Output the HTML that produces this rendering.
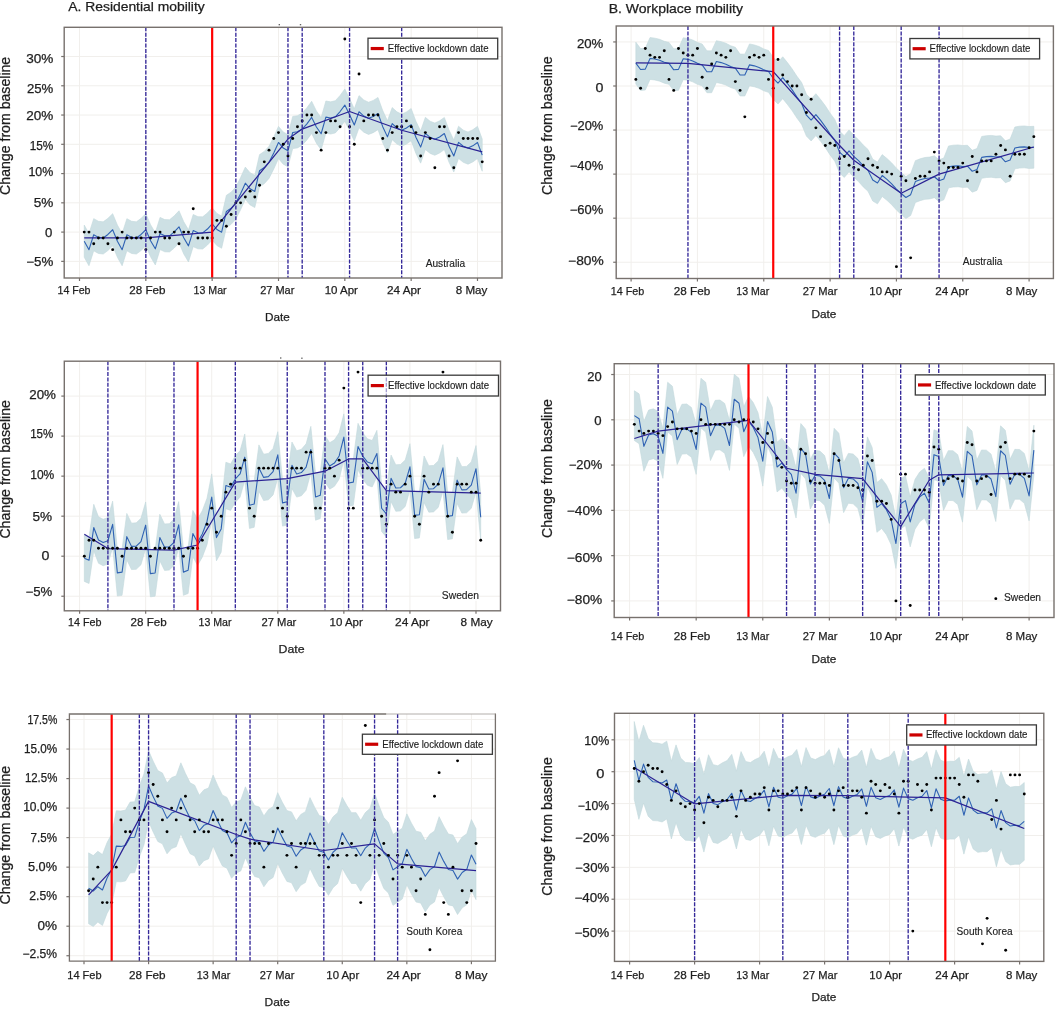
<!DOCTYPE html>
<html><head><meta charset="utf-8"><title>Residential and workplace mobility</title>
<style>
html,body{margin:0;padding:0;background:#fff;}
svg{display:block;}
text{font-family:"Liberation Sans",Arial,sans-serif;fill:#1e1e1e;stroke:#1e1e1e;stroke-width:0.25px;}
.t2 text{fill:#222;stroke:#222;stroke-width:0.15px;}
</style></head><body>
<svg width="1064" height="1023" viewBox="0 0 1064 1023">
<g class="t">
<text x="68.27" y="10.8" font-size="13.2" textLength="136.47" lengthAdjust="spacingAndGlyphs">A. Residential mobility</text>
<text x="608.65" y="12.8" font-size="13.1" textLength="134.3" lengthAdjust="spacingAndGlyphs">B. Workplace mobility</text>
</g>
<g>
<line x1="64.2" y1="56.51" x2="502" y2="56.51" stroke="#f1efec" stroke-width="1"/>
<line x1="64.2" y1="85.78" x2="502" y2="85.78" stroke="#f1efec" stroke-width="1"/>
<line x1="64.2" y1="115.04" x2="502" y2="115.04" stroke="#f1efec" stroke-width="1"/>
<line x1="64.2" y1="144.31" x2="502" y2="144.31" stroke="#f1efec" stroke-width="1"/>
<line x1="64.2" y1="173.57" x2="502" y2="173.57" stroke="#f1efec" stroke-width="1"/>
<line x1="64.2" y1="202.83" x2="502" y2="202.83" stroke="#f1efec" stroke-width="1"/>
<line x1="64.2" y1="232.1" x2="502" y2="232.1" stroke="#f1efec" stroke-width="1"/>
<line x1="64.2" y1="261.37" x2="502" y2="261.37" stroke="#f1efec" stroke-width="1"/>
<line x1="79.5" y1="27.3" x2="79.5" y2="278" stroke="#f1efec" stroke-width="1"/>
<line x1="145.83" y1="27.3" x2="145.83" y2="278" stroke="#f1efec" stroke-width="1"/>
<line x1="212.16" y1="27.3" x2="212.16" y2="278" stroke="#f1efec" stroke-width="1"/>
<line x1="278.5" y1="27.3" x2="278.5" y2="278" stroke="#f1efec" stroke-width="1"/>
<line x1="344.83" y1="27.3" x2="344.83" y2="278" stroke="#f1efec" stroke-width="1"/>
<line x1="411.16" y1="27.3" x2="411.16" y2="278" stroke="#f1efec" stroke-width="1"/>
<line x1="477.49" y1="27.3" x2="477.49" y2="278" stroke="#f1efec" stroke-width="1"/>
<polygon fill="#cde0e4" stroke="#c3d8dc" stroke-width="0.6" stroke-linejoin="round" points="84.24,225.08 88.98,233.56 93.71,218.64 98.45,221.27 103.19,221.86 107.93,218.35 112.67,213.66 117.4,225.08 122.14,233.56 126.88,218.64 131.62,221.27 136.36,221.86 141.09,218.35 145.83,213.66 150.57,224.66 155.31,232.73 160.05,217.38 164.78,219.6 169.52,219.77 174.26,215.84 179,210.74 183.74,221.73 188.47,229.8 193.21,214.46 197.95,216.67 202.69,216.84 207.43,212.91 212.16,207.81 216.9,213.41 221.64,216.08 226.38,195.34 231.12,192.15 235.85,186.92 240.59,177.59 245.33,167.1 250.07,172.69 254.81,175.36 259.54,154.62 264.28,151.44 269.02,146.21 273.76,136.88 278.5,126.38 283.23,131.98 287.97,134.65 292.71,116.41 297.45,115.72 302.19,112.99 306.92,107.72 311.66,101.29 316.4,110.94 321.14,117.67 325.88,100.99 330.61,101.87 335.35,100.7 340.09,95.43 344.83,88.99 349.57,98.65 354.3,108.84 359.04,95.62 363.78,99.96 368.52,102.24 373.26,100.43 377.99,97.45 382.73,110.57 387.47,120.76 392.21,107.54 396.95,111.87 401.68,114.16 406.42,111.92 411.16,108.52 415.9,121.2 420.64,130.96 425.37,117.31 430.11,121.22 434.85,123.08 439.59,120.84 444.33,117.43 449.06,130.12 453.8,139.88 458.54,126.23 463.28,130.14 468.02,132 472.75,129.76 477.49,126.35 482.23,139.04 482.23,171.23 477.49,158.54 472.75,161.95 468.02,164.19 463.28,162.33 458.54,158.42 453.8,172.07 449.06,162.31 444.33,149.62 439.59,153.03 434.85,155.27 430.11,153.41 425.37,149.5 420.64,163.16 415.9,153.39 411.16,140.71 406.42,144.12 401.68,146.35 396.95,144.07 392.21,139.73 387.47,152.95 382.73,142.76 377.99,129.65 373.26,132.63 368.52,134.43 363.78,132.15 359.04,127.81 354.3,141.03 349.57,130.84 344.83,121.19 340.09,127.62 335.35,132.89 330.61,134.06 325.88,133.18 321.14,149.87 316.4,143.13 311.66,133.48 306.92,139.92 302.19,145.18 297.45,147.91 292.71,148.6 287.97,166.84 283.23,164.17 278.5,158.57 273.76,169.07 269.02,178.4 264.28,183.63 259.54,186.81 254.81,207.55 250.07,204.88 245.33,199.29 240.59,209.79 235.85,219.11 231.12,224.34 226.38,227.53 221.64,248.27 216.9,245.6 212.16,240 207.43,245.1 202.69,249.03 197.95,248.86 193.21,246.65 188.47,261.99 183.74,253.92 179,242.93 174.26,248.03 169.52,251.96 164.78,251.79 160.05,249.58 155.31,264.92 150.57,256.85 145.83,245.85 141.09,250.54 136.36,254.05 131.62,253.46 126.88,250.83 122.14,265.75 117.4,257.27 112.67,245.85 107.93,250.54 103.19,254.05 98.45,253.46 93.71,250.83 88.98,265.75 84.24,257.27"/>
<polyline fill="none" stroke="#2f62b3" stroke-width="1.1" stroke-linejoin="round" points="84.24,241.17 88.98,249.66 93.71,234.73 98.45,237.37 103.19,237.95 107.93,234.44 112.67,229.76 117.4,241.17 122.14,249.66 126.88,234.73 131.62,237.37 136.36,237.95 141.09,234.44 145.83,229.76 150.57,240.75 155.31,248.82 160.05,233.48 164.78,235.7 169.52,235.86 174.26,231.93 179,226.83 183.74,237.83 188.47,245.9 193.21,230.55 197.95,232.77 202.69,232.94 207.43,229.01 212.16,223.91 216.9,229.5 221.64,232.17 226.38,211.43 231.12,208.25 235.85,203.02 240.59,193.69 245.33,183.19 250.07,188.79 254.81,191.46 259.54,170.72 264.28,167.53 269.02,162.3 273.76,152.97 278.5,142.48 283.23,148.07 287.97,150.74 292.71,132.5 297.45,131.82 302.19,129.09 306.92,123.82 311.66,117.38 316.4,127.04 321.14,133.77 325.88,117.09 330.61,117.97 335.35,116.8 340.09,111.53 344.83,105.09 349.57,114.75 354.3,124.94 359.04,111.71 363.78,116.05 368.52,118.34 373.26,116.53 377.99,113.55 382.73,126.67 387.47,136.86 392.21,123.63 396.95,127.97 401.68,130.26 406.42,128.02 411.16,124.61 415.9,137.3 420.64,147.06 425.37,133.41 430.11,137.32 434.85,139.18 439.59,136.94 444.33,133.53 449.06,146.22 453.8,155.98 458.54,142.33 463.28,146.23 468.02,148.09 472.75,145.85 477.49,142.45 482.23,155.13"/>
<polyline fill="none" stroke="#2b2294" stroke-width="1.2" stroke-linejoin="round" points="84.24,237.95 145.83,237.95 212.16,232.1 287.97,139.04 302.19,129.09 349.57,111.53 401.68,130.26 482.23,151.91"/>
<circle cx="84.24" cy="232.1" r="1.45"/>
<circle cx="88.98" cy="232.1" r="1.45"/>
<circle cx="93.71" cy="243.81" r="1.45"/>
<circle cx="98.45" cy="237.95" r="1.45"/>
<circle cx="103.19" cy="237.95" r="1.45"/>
<circle cx="107.93" cy="243.81" r="1.45"/>
<circle cx="112.67" cy="249.66" r="1.45"/>
<circle cx="117.4" cy="237.95" r="1.45"/>
<circle cx="122.14" cy="232.1" r="1.45"/>
<circle cx="126.88" cy="237.95" r="1.45"/>
<circle cx="131.62" cy="237.95" r="1.45"/>
<circle cx="136.36" cy="237.95" r="1.45"/>
<circle cx="141.09" cy="237.95" r="1.45"/>
<circle cx="145.83" cy="249.66" r="1.45"/>
<circle cx="150.57" cy="237.95" r="1.45"/>
<circle cx="155.31" cy="232.1" r="1.45"/>
<circle cx="160.05" cy="232.1" r="1.45"/>
<circle cx="164.78" cy="237.95" r="1.45"/>
<circle cx="169.52" cy="237.95" r="1.45"/>
<circle cx="174.26" cy="232.1" r="1.45"/>
<circle cx="179" cy="243.81" r="1.45"/>
<circle cx="183.74" cy="232.1" r="1.45"/>
<circle cx="188.47" cy="232.1" r="1.45"/>
<circle cx="193.21" cy="208.69" r="1.45"/>
<circle cx="197.95" cy="237.95" r="1.45"/>
<circle cx="202.69" cy="237.95" r="1.45"/>
<circle cx="207.43" cy="237.95" r="1.45"/>
<circle cx="212.16" cy="237.95" r="1.45"/>
<circle cx="216.9" cy="220.39" r="1.45"/>
<circle cx="221.64" cy="220.39" r="1.45"/>
<circle cx="226.38" cy="226.25" r="1.45"/>
<circle cx="231.12" cy="214.54" r="1.45"/>
<circle cx="235.85" cy="202.83" r="1.45"/>
<circle cx="240.59" cy="202.83" r="1.45"/>
<circle cx="245.33" cy="196.98" r="1.45"/>
<circle cx="250.07" cy="191.13" r="1.45"/>
<circle cx="254.81" cy="196.98" r="1.45"/>
<circle cx="259.54" cy="185.28" r="1.45"/>
<circle cx="264.28" cy="161.86" r="1.45"/>
<circle cx="269.02" cy="150.16" r="1.45"/>
<circle cx="273.76" cy="138.45" r="1.45"/>
<circle cx="278.5" cy="132.6" r="1.45"/>
<circle cx="283.23" cy="144.31" r="1.45"/>
<circle cx="287.97" cy="156.01" r="1.45"/>
<circle cx="292.71" cy="138.45" r="1.45"/>
<circle cx="297.45" cy="126.75" r="1.45"/>
<circle cx="302.19" cy="120.89" r="1.45"/>
<circle cx="306.92" cy="115.04" r="1.45"/>
<circle cx="311.66" cy="115.04" r="1.45"/>
<circle cx="316.4" cy="132.6" r="1.45"/>
<circle cx="321.14" cy="150.16" r="1.45"/>
<circle cx="325.88" cy="132.6" r="1.45"/>
<circle cx="330.61" cy="120.89" r="1.45"/>
<circle cx="335.35" cy="120.89" r="1.45"/>
<circle cx="340.09" cy="126.75" r="1.45"/>
<circle cx="344.83" cy="38.95" r="1.45"/>
<circle cx="349.57" cy="126.75" r="1.45"/>
<circle cx="354.3" cy="144.31" r="1.45"/>
<circle cx="359.04" cy="74.07" r="1.45"/>
<circle cx="363.78" cy="120.89" r="1.45"/>
<circle cx="368.52" cy="115.04" r="1.45"/>
<circle cx="373.26" cy="115.04" r="1.45"/>
<circle cx="377.99" cy="115.04" r="1.45"/>
<circle cx="382.73" cy="138.45" r="1.45"/>
<circle cx="387.47" cy="150.16" r="1.45"/>
<circle cx="392.21" cy="132.6" r="1.45"/>
<circle cx="396.95" cy="126.75" r="1.45"/>
<circle cx="401.68" cy="126.75" r="1.45"/>
<circle cx="406.42" cy="120.89" r="1.45"/>
<circle cx="411.16" cy="126.75" r="1.45"/>
<circle cx="415.9" cy="132.6" r="1.45"/>
<circle cx="420.64" cy="156.01" r="1.45"/>
<circle cx="425.37" cy="132.6" r="1.45"/>
<circle cx="430.11" cy="138.45" r="1.45"/>
<circle cx="434.85" cy="167.72" r="1.45"/>
<circle cx="439.59" cy="126.75" r="1.45"/>
<circle cx="444.33" cy="126.75" r="1.45"/>
<circle cx="449.06" cy="156.01" r="1.45"/>
<circle cx="453.8" cy="167.72" r="1.45"/>
<circle cx="458.54" cy="132.6" r="1.45"/>
<circle cx="463.28" cy="138.45" r="1.45"/>
<circle cx="468.02" cy="138.45" r="1.45"/>
<circle cx="472.75" cy="138.45" r="1.45"/>
<circle cx="477.49" cy="138.45" r="1.45"/>
<circle cx="482.23" cy="161.86" r="1.45"/>
<line x1="145.83" y1="27.3" x2="145.83" y2="278" stroke="#35299a" stroke-width="1.35" stroke-dasharray="4,1.4"/>
<line x1="235.85" y1="27.3" x2="235.85" y2="278" stroke="#35299a" stroke-width="1.35" stroke-dasharray="4,1.4"/>
<line x1="287.97" y1="27.3" x2="287.97" y2="278" stroke="#35299a" stroke-width="1.35" stroke-dasharray="4,1.4"/>
<line x1="302.19" y1="27.3" x2="302.19" y2="278" stroke="#35299a" stroke-width="1.35" stroke-dasharray="4,1.4"/>
<line x1="349.57" y1="27.3" x2="349.57" y2="278" stroke="#35299a" stroke-width="1.35" stroke-dasharray="4,1.4"/>
<line x1="401.68" y1="27.3" x2="401.68" y2="278" stroke="#35299a" stroke-width="1.35" stroke-dasharray="4,1.4"/>
<line x1="212.16" y1="27.3" x2="212.16" y2="278" stroke="#ff0000" stroke-width="2.2"/>
<rect x="64.2" y="27.3" width="437.8" height="250.7" fill="none" stroke="#77716d" stroke-width="1.4"/>
<line x1="61.2" y1="56.51" x2="64.2" y2="56.51" stroke="#77716d" stroke-width="1.2"/>
<line x1="61.2" y1="85.78" x2="64.2" y2="85.78" stroke="#77716d" stroke-width="1.2"/>
<line x1="61.2" y1="115.04" x2="64.2" y2="115.04" stroke="#77716d" stroke-width="1.2"/>
<line x1="61.2" y1="144.31" x2="64.2" y2="144.31" stroke="#77716d" stroke-width="1.2"/>
<line x1="61.2" y1="173.57" x2="64.2" y2="173.57" stroke="#77716d" stroke-width="1.2"/>
<line x1="61.2" y1="202.83" x2="64.2" y2="202.83" stroke="#77716d" stroke-width="1.2"/>
<line x1="61.2" y1="232.1" x2="64.2" y2="232.1" stroke="#77716d" stroke-width="1.2"/>
<line x1="61.2" y1="261.37" x2="64.2" y2="261.37" stroke="#77716d" stroke-width="1.2"/>
<line x1="79.5" y1="278" x2="79.5" y2="281" stroke="#77716d" stroke-width="1.2"/>
<line x1="145.83" y1="278" x2="145.83" y2="281" stroke="#77716d" stroke-width="1.2"/>
<line x1="212.16" y1="278" x2="212.16" y2="281" stroke="#77716d" stroke-width="1.2"/>
<line x1="278.5" y1="278" x2="278.5" y2="281" stroke="#77716d" stroke-width="1.2"/>
<line x1="344.83" y1="278" x2="344.83" y2="281" stroke="#77716d" stroke-width="1.2"/>
<line x1="411.16" y1="278" x2="411.16" y2="281" stroke="#77716d" stroke-width="1.2"/>
<line x1="477.49" y1="278" x2="477.49" y2="281" stroke="#77716d" stroke-width="1.2"/>
</g>
<g class="t">
<text x="26.19" y="63.03" font-size="12" textLength="27.17" lengthAdjust="spacingAndGlyphs">30%</text>
<text x="26.94" y="92.93" font-size="12" textLength="26.41" lengthAdjust="spacingAndGlyphs">25%</text>
<text x="26.32" y="120.03" font-size="12" textLength="27.03" lengthAdjust="spacingAndGlyphs">20%</text>
<text x="29.72" y="150.03" font-size="12" textLength="23.58" lengthAdjust="spacingAndGlyphs">15%</text>
<text x="28.47" y="176.03" font-size="12" textLength="24.85" lengthAdjust="spacingAndGlyphs">10%</text>
<text x="33.76" y="207.23" font-size="12" textLength="19.62" lengthAdjust="spacingAndGlyphs">5%</text>
<text x="45.07" y="236.83" font-size="12" textLength="7.34" lengthAdjust="spacingAndGlyphs">0</text>
<text x="26.33" y="265.93" font-size="12" textLength="27.02" lengthAdjust="spacingAndGlyphs">−5%</text>
<text x="57.5" y="294.4" font-size="11.6" textLength="33.03" lengthAdjust="spacingAndGlyphs">14 Feb</text>
<text x="129.32" y="294.4" font-size="11.6" textLength="36.26" lengthAdjust="spacingAndGlyphs">28 Feb</text>
<text x="193.6" y="294.4" font-size="11.6" textLength="33.05" lengthAdjust="spacingAndGlyphs">13 Mar</text>
<text x="260.15" y="294.4" font-size="11.6" textLength="34.21" lengthAdjust="spacingAndGlyphs">27 Mar</text>
<text x="324.63" y="294.4" font-size="11.6" textLength="33.35" lengthAdjust="spacingAndGlyphs">10 Apr</text>
<text x="387.01" y="294.4" font-size="11.6" textLength="33.98" lengthAdjust="spacingAndGlyphs">24 Apr</text>
<text x="455.71" y="294.4" font-size="11.6" textLength="31.63" lengthAdjust="spacingAndGlyphs">8 May</text>
<text x="265.03" y="321.3" font-size="11.8" textLength="24.8" lengthAdjust="spacingAndGlyphs">Date</text>
<text transform="translate(10.3,194.2) rotate(-90)" x="-0.71" y="0" font-size="14" textLength="138.13" lengthAdjust="spacingAndGlyphs">Change from baseline</text>
</g>
<rect x="368" y="38.2" width="129.7" height="20.7" fill="#fff" fill-opacity="1" stroke="#3a3a3a" stroke-width="1.3"/>
<line x1="370.7" y1="48.55" x2="383.8" y2="48.55" stroke="#cc0000" stroke-width="3.2"/>
<g class="t2">
<text x="387.81" y="52.4" font-size="10.4" textLength="100.81" lengthAdjust="spacingAndGlyphs">Effective lockdown date</text>
</g>
<rect x="424.7" y="258.7" width="41.5" height="10.2" fill="#fff"/>
<g class="t2">
<text x="425.67" y="266.6" font-size="10.5" textLength="39.51" lengthAdjust="spacingAndGlyphs">Australia</text>
</g>
<g>
<line x1="64.3" y1="396.1" x2="500.5" y2="396.1" stroke="#f1efec" stroke-width="1"/>
<line x1="64.3" y1="436.12" x2="500.5" y2="436.12" stroke="#f1efec" stroke-width="1"/>
<line x1="64.3" y1="476.15" x2="500.5" y2="476.15" stroke="#f1efec" stroke-width="1"/>
<line x1="64.3" y1="516.18" x2="500.5" y2="516.18" stroke="#f1efec" stroke-width="1"/>
<line x1="64.3" y1="556.2" x2="500.5" y2="556.2" stroke="#f1efec" stroke-width="1"/>
<line x1="64.3" y1="596.23" x2="500.5" y2="596.23" stroke="#f1efec" stroke-width="1"/>
<line x1="79.6" y1="361.2" x2="79.6" y2="610.8" stroke="#f1efec" stroke-width="1"/>
<line x1="145.67" y1="361.2" x2="145.67" y2="610.8" stroke="#f1efec" stroke-width="1"/>
<line x1="211.73" y1="361.2" x2="211.73" y2="610.8" stroke="#f1efec" stroke-width="1"/>
<line x1="277.8" y1="361.2" x2="277.8" y2="610.8" stroke="#f1efec" stroke-width="1"/>
<line x1="343.86" y1="361.2" x2="343.86" y2="610.8" stroke="#f1efec" stroke-width="1"/>
<line x1="409.93" y1="361.2" x2="409.93" y2="610.8" stroke="#f1efec" stroke-width="1"/>
<line x1="476" y1="361.2" x2="476" y2="610.8" stroke="#f1efec" stroke-width="1"/>
<polygon fill="#cde0e4" stroke="#c3d8dc" stroke-width="0.6" stroke-linejoin="round" points="84.32,534.99 89.04,537.07 93.76,504.33 98.48,516.82 103.19,519.3 107.91,517.54 112.63,501.16 117.35,549.62 122.07,548.94 126.79,513.43 131.51,523.15 136.23,522.86 140.95,518.34 145.67,501.96 150.38,550.42 155.1,549.74 159.82,514.23 164.54,523.95 169.26,523.67 173.98,519.14 178.7,501.61 183.42,548.92 188.14,547.07 192.86,510.41 197.57,518.98 202.29,510.72 207.01,498.22 211.73,473.88 216.45,514.37 221.17,505.72 225.89,462.24 230.61,463.99 235.33,455.74 240.05,450.77 244.77,433.95 249.48,481.97 254.2,480.84 258.92,444.89 263.64,454.17 268.36,453.44 273.08,448.47 277.8,431.66 282.52,479.68 287.24,478.55 291.96,442.01 296.67,450.69 301.39,449.37 306.11,443.81 310.83,426.4 315.55,473.83 320.27,472.11 324.99,435.56 329.71,442.72 334.43,439.87 339.14,432.78 343.86,413.84 348.58,459.74 353.3,458.94 358.02,423.32 362.74,432.92 367.46,438.85 372.18,440.53 376.9,430.36 381.62,485.04 386.34,490.56 391.05,455.07 395.77,464.81 400.49,464.54 405.21,460.03 409.93,443.67 414.65,492.15 419.37,491.48 424.09,455.99 428.81,465.73 433.52,465.46 438.24,460.95 442.96,444.59 447.68,493.08 452.4,492.41 457.12,456.92 461.84,466.66 466.56,466.39 471.28,461.88 476,445.52 480.72,494 480.72,540.43 476,491.95 471.28,508.31 466.56,512.82 461.84,513.09 457.12,503.35 452.4,538.84 447.68,539.51 442.96,491.02 438.24,507.38 433.52,511.89 428.81,512.16 424.09,502.42 419.37,537.91 414.65,538.58 409.93,490.1 405.21,506.46 400.49,510.97 395.77,511.24 391.05,501.5 386.34,536.99 381.62,531.46 376.9,476.79 372.18,486.96 367.46,485.28 362.74,479.35 358.02,469.75 353.3,505.37 348.58,506.17 343.86,460.27 339.14,479.21 334.43,486.3 329.71,489.15 324.99,481.99 320.27,518.54 315.55,520.26 310.83,472.83 306.11,490.24 301.39,495.8 296.67,497.12 291.96,488.44 287.24,524.98 282.52,526.11 277.8,478.09 273.08,494.9 268.36,499.87 263.64,500.6 258.92,491.32 254.2,527.27 249.48,528.4 244.77,480.38 240.05,497.2 235.33,502.17 230.61,510.42 225.89,508.67 221.17,552.15 216.45,560.8 211.73,520.31 207.01,544.65 202.29,557.15 197.57,565.41 192.86,556.84 188.14,593.5 183.42,595.34 178.7,548.03 173.98,565.57 169.26,570.09 164.54,570.38 159.82,560.66 155.1,596.17 150.38,596.85 145.67,548.39 140.95,564.77 136.23,569.29 131.51,569.58 126.79,559.86 122.07,595.37 117.35,596.05 112.63,547.59 107.91,563.96 103.19,565.73 98.48,563.24 93.76,550.76 89.04,583.5 84.32,581.42"/>
<polyline fill="none" stroke="#2f62b3" stroke-width="1.1" stroke-linejoin="round" points="84.32,558.2 89.04,560.28 93.76,527.54 98.48,540.03 103.19,542.51 107.91,540.75 112.63,524.37 117.35,572.84 122.07,572.15 126.79,536.64 131.51,546.37 136.23,546.08 140.95,541.55 145.67,525.17 150.38,573.64 155.1,572.95 159.82,537.45 164.54,547.17 169.26,546.88 173.98,542.35 178.7,524.82 183.42,572.13 188.14,570.29 192.86,533.63 197.57,542.19 202.29,533.94 207.01,521.44 211.73,497.09 216.45,537.59 221.17,528.93 225.89,485.46 230.61,487.21 235.33,478.95 240.05,473.98 244.77,457.16 249.48,505.19 254.2,504.06 258.92,468.11 263.64,477.39 268.36,476.66 273.08,471.69 277.8,454.87 282.52,502.89 287.24,501.77 291.96,465.22 296.67,473.91 301.39,472.59 306.11,467.02 310.83,449.61 315.55,497.04 320.27,495.32 324.99,458.78 329.71,465.94 334.43,463.09 339.14,455.99 343.86,437.05 348.58,482.95 353.3,482.15 358.02,446.53 362.74,456.14 367.46,462.06 372.18,463.74 376.9,453.58 381.62,508.25 386.34,513.77 391.05,478.28 395.77,488.02 400.49,487.75 405.21,483.24 409.93,466.88 414.65,515.37 419.37,514.7 424.09,479.21 428.81,488.95 433.52,488.68 438.24,484.17 442.96,467.81 447.68,516.29 452.4,515.62 457.12,480.13 461.84,489.87 466.56,489.6 471.28,485.09 476,468.73 480.72,517.22"/>
<polyline fill="none" stroke="#2b2294" stroke-width="1.2" stroke-linejoin="round" points="84.32,534.19 107.91,548.6 173.98,550.2 197.57,544.99 235.33,482.15 287.24,478.55 324.99,471.19 348.58,458.94 362.74,458.94 386.34,490.56 480.72,493.2"/>
<circle cx="84.32" cy="556.2" r="1.45"/>
<circle cx="89.04" cy="540.19" r="1.45"/>
<circle cx="93.76" cy="540.19" r="1.45"/>
<circle cx="98.48" cy="548.2" r="1.45"/>
<circle cx="103.19" cy="548.2" r="1.45"/>
<circle cx="107.91" cy="548.2" r="1.45"/>
<circle cx="112.63" cy="548.2" r="1.45"/>
<circle cx="117.35" cy="548.2" r="1.45"/>
<circle cx="122.07" cy="556.2" r="1.45"/>
<circle cx="126.79" cy="548.2" r="1.45"/>
<circle cx="131.51" cy="548.2" r="1.45"/>
<circle cx="136.23" cy="548.2" r="1.45"/>
<circle cx="140.95" cy="548.2" r="1.45"/>
<circle cx="145.67" cy="548.2" r="1.45"/>
<circle cx="150.38" cy="556.2" r="1.45"/>
<circle cx="155.1" cy="548.2" r="1.45"/>
<circle cx="159.82" cy="548.2" r="1.45"/>
<circle cx="164.54" cy="548.2" r="1.45"/>
<circle cx="169.26" cy="548.2" r="1.45"/>
<circle cx="173.98" cy="548.2" r="1.45"/>
<circle cx="178.7" cy="548.2" r="1.45"/>
<circle cx="183.42" cy="556.2" r="1.45"/>
<circle cx="188.14" cy="548.2" r="1.45"/>
<circle cx="192.86" cy="548.2" r="1.45"/>
<circle cx="197.57" cy="548.2" r="1.45"/>
<circle cx="202.29" cy="540.19" r="1.45"/>
<circle cx="207.01" cy="524.18" r="1.45"/>
<circle cx="211.73" cy="508.17" r="1.45"/>
<circle cx="216.45" cy="532.19" r="1.45"/>
<circle cx="221.17" cy="516.18" r="1.45"/>
<circle cx="225.89" cy="492.16" r="1.45"/>
<circle cx="230.61" cy="484.16" r="1.45"/>
<circle cx="235.33" cy="468.15" r="1.45"/>
<circle cx="240.05" cy="468.15" r="1.45"/>
<circle cx="244.77" cy="460.14" r="1.45"/>
<circle cx="249.48" cy="508.17" r="1.45"/>
<circle cx="254.2" cy="516.18" r="1.45"/>
<circle cx="258.92" cy="468.15" r="1.45"/>
<circle cx="263.64" cy="468.15" r="1.45"/>
<circle cx="268.36" cy="468.15" r="1.45"/>
<circle cx="273.08" cy="468.15" r="1.45"/>
<circle cx="277.8" cy="468.15" r="1.45"/>
<circle cx="282.52" cy="508.17" r="1.45"/>
<circle cx="287.24" cy="516.18" r="1.45"/>
<circle cx="291.96" cy="468.15" r="1.45"/>
<circle cx="296.67" cy="468.15" r="1.45"/>
<circle cx="301.39" cy="468.15" r="1.45"/>
<circle cx="306.11" cy="452.14" r="1.45"/>
<circle cx="310.83" cy="452.14" r="1.45"/>
<circle cx="315.55" cy="508.17" r="1.45"/>
<circle cx="320.27" cy="508.17" r="1.45"/>
<circle cx="324.99" cy="468.15" r="1.45"/>
<circle cx="329.71" cy="468.15" r="1.45"/>
<circle cx="334.43" cy="476.15" r="1.45"/>
<circle cx="339.14" cy="460.14" r="1.45"/>
<circle cx="343.86" cy="388.1" r="1.45"/>
<circle cx="348.58" cy="508.17" r="1.45"/>
<circle cx="353.3" cy="508.17" r="1.45"/>
<circle cx="358.02" cy="372.09" r="1.45"/>
<circle cx="362.74" cy="468.15" r="1.45"/>
<circle cx="367.46" cy="468.15" r="1.45"/>
<circle cx="372.18" cy="468.15" r="1.45"/>
<circle cx="376.9" cy="468.15" r="1.45"/>
<circle cx="381.62" cy="516.18" r="1.45"/>
<circle cx="386.34" cy="524.18" r="1.45"/>
<circle cx="391.05" cy="484.16" r="1.45"/>
<circle cx="395.77" cy="492.16" r="1.45"/>
<circle cx="400.49" cy="492.16" r="1.45"/>
<circle cx="405.21" cy="484.16" r="1.45"/>
<circle cx="409.93" cy="476.15" r="1.45"/>
<circle cx="414.65" cy="516.18" r="1.45"/>
<circle cx="419.37" cy="524.18" r="1.45"/>
<circle cx="424.09" cy="476.15" r="1.45"/>
<circle cx="428.81" cy="492.16" r="1.45"/>
<circle cx="433.52" cy="484.16" r="1.45"/>
<circle cx="438.24" cy="484.16" r="1.45"/>
<circle cx="442.96" cy="372.09" r="1.45"/>
<circle cx="447.68" cy="516.18" r="1.45"/>
<circle cx="452.4" cy="532.19" r="1.45"/>
<circle cx="457.12" cy="484.16" r="1.45"/>
<circle cx="461.84" cy="484.16" r="1.45"/>
<circle cx="466.56" cy="484.16" r="1.45"/>
<circle cx="471.28" cy="492.16" r="1.45"/>
<circle cx="476" cy="492.16" r="1.45"/>
<circle cx="480.72" cy="540.19" r="1.45"/>
<line x1="107.91" y1="361.2" x2="107.91" y2="610.8" stroke="#35299a" stroke-width="1.35" stroke-dasharray="4,1.4"/>
<line x1="173.98" y1="361.2" x2="173.98" y2="610.8" stroke="#35299a" stroke-width="1.35" stroke-dasharray="4,1.4"/>
<line x1="235.33" y1="361.2" x2="235.33" y2="610.8" stroke="#35299a" stroke-width="1.35" stroke-dasharray="4,1.4"/>
<line x1="287.24" y1="361.2" x2="287.24" y2="610.8" stroke="#35299a" stroke-width="1.35" stroke-dasharray="4,1.4"/>
<line x1="324.99" y1="361.2" x2="324.99" y2="610.8" stroke="#35299a" stroke-width="1.35" stroke-dasharray="4,1.4"/>
<line x1="348.58" y1="361.2" x2="348.58" y2="610.8" stroke="#35299a" stroke-width="1.35" stroke-dasharray="4,1.4"/>
<line x1="362.74" y1="361.2" x2="362.74" y2="610.8" stroke="#35299a" stroke-width="1.35" stroke-dasharray="4,1.4"/>
<line x1="386.34" y1="361.2" x2="386.34" y2="610.8" stroke="#35299a" stroke-width="1.35" stroke-dasharray="4,1.4"/>
<line x1="197.57" y1="361.2" x2="197.57" y2="610.8" stroke="#ff0000" stroke-width="2.2"/>
<rect x="64.3" y="361.2" width="436.2" height="249.6" fill="none" stroke="#77716d" stroke-width="1.4"/>
<line x1="61.3" y1="396.1" x2="64.3" y2="396.1" stroke="#77716d" stroke-width="1.2"/>
<line x1="61.3" y1="436.12" x2="64.3" y2="436.12" stroke="#77716d" stroke-width="1.2"/>
<line x1="61.3" y1="476.15" x2="64.3" y2="476.15" stroke="#77716d" stroke-width="1.2"/>
<line x1="61.3" y1="516.18" x2="64.3" y2="516.18" stroke="#77716d" stroke-width="1.2"/>
<line x1="61.3" y1="556.2" x2="64.3" y2="556.2" stroke="#77716d" stroke-width="1.2"/>
<line x1="61.3" y1="596.23" x2="64.3" y2="596.23" stroke="#77716d" stroke-width="1.2"/>
<line x1="79.6" y1="610.8" x2="79.6" y2="613.8" stroke="#77716d" stroke-width="1.2"/>
<line x1="145.67" y1="610.8" x2="145.67" y2="613.8" stroke="#77716d" stroke-width="1.2"/>
<line x1="211.73" y1="610.8" x2="211.73" y2="613.8" stroke="#77716d" stroke-width="1.2"/>
<line x1="277.8" y1="610.8" x2="277.8" y2="613.8" stroke="#77716d" stroke-width="1.2"/>
<line x1="343.86" y1="610.8" x2="343.86" y2="613.8" stroke="#77716d" stroke-width="1.2"/>
<line x1="409.93" y1="610.8" x2="409.93" y2="613.8" stroke="#77716d" stroke-width="1.2"/>
<line x1="476" y1="610.8" x2="476" y2="613.8" stroke="#77716d" stroke-width="1.2"/>
</g>
<g class="t">
<text x="29.23" y="398.53" font-size="12" textLength="26.72" lengthAdjust="spacingAndGlyphs">20%</text>
<text x="30.14" y="437.93" font-size="12" textLength="23.06" lengthAdjust="spacingAndGlyphs">15%</text>
<text x="30.2" y="478.93" font-size="12" textLength="24.11" lengthAdjust="spacingAndGlyphs">10%</text>
<text x="32.56" y="521.03" font-size="12" textLength="19.62" lengthAdjust="spacingAndGlyphs">5%</text>
<text x="41.43" y="560.03" font-size="12" textLength="7.92" lengthAdjust="spacingAndGlyphs">0</text>
<text x="25.54" y="596.23" font-size="12" textLength="26.81" lengthAdjust="spacingAndGlyphs">−5%</text>
<text x="67.99" y="626.4" font-size="11.6" textLength="33.55" lengthAdjust="spacingAndGlyphs">14 Feb</text>
<text x="130.62" y="626.4" font-size="11.6" textLength="36.16" lengthAdjust="spacingAndGlyphs">28 Feb</text>
<text x="198.51" y="626.4" font-size="11.6" textLength="32.95" lengthAdjust="spacingAndGlyphs">13 Mar</text>
<text x="261.44" y="626.4" font-size="11.6" textLength="34.93" lengthAdjust="spacingAndGlyphs">27 Mar</text>
<text x="329.54" y="626.4" font-size="11.6" textLength="33.25" lengthAdjust="spacingAndGlyphs">10 Apr</text>
<text x="395" y="626.4" font-size="11.6" textLength="34.59" lengthAdjust="spacingAndGlyphs">24 Apr</text>
<text x="460.6" y="626.4" font-size="11.6" textLength="32.04" lengthAdjust="spacingAndGlyphs">8 May</text>
<text x="278.48" y="653" font-size="11.8" textLength="26.07" lengthAdjust="spacingAndGlyphs">Date</text>
<text transform="translate(10.3,537.9) rotate(-90)" x="-0.71" y="0" font-size="14" textLength="138.53" lengthAdjust="spacingAndGlyphs">Change from baseline</text>
</g>
<rect x="368.1" y="375.2" width="130.4" height="20.8" fill="#fff" fill-opacity="0.55" stroke="#3a3a3a" stroke-width="1.3"/>
<line x1="370.8" y1="385.6" x2="383.9" y2="385.6" stroke="#cc0000" stroke-width="3.2"/>
<g class="t2">
<text x="388" y="389.2" font-size="10.4" textLength="101.11" lengthAdjust="spacingAndGlyphs">Effective lockdown date</text>
</g>
<rect x="441.3" y="590.6" width="38.1" height="10.2" fill="#fff"/>
<g class="t2">
<text x="441.84" y="598.5" font-size="10.5" textLength="37.22" lengthAdjust="spacingAndGlyphs">Sweden</text>
</g>
<g>
<line x1="69.4" y1="719.53" x2="495.4" y2="719.53" stroke="#f1efec" stroke-width="1"/>
<line x1="69.4" y1="749.05" x2="495.4" y2="749.05" stroke="#f1efec" stroke-width="1"/>
<line x1="69.4" y1="778.58" x2="495.4" y2="778.58" stroke="#f1efec" stroke-width="1"/>
<line x1="69.4" y1="808.1" x2="495.4" y2="808.1" stroke="#f1efec" stroke-width="1"/>
<line x1="69.4" y1="837.62" x2="495.4" y2="837.62" stroke="#f1efec" stroke-width="1"/>
<line x1="69.4" y1="867.15" x2="495.4" y2="867.15" stroke="#f1efec" stroke-width="1"/>
<line x1="69.4" y1="896.68" x2="495.4" y2="896.68" stroke="#f1efec" stroke-width="1"/>
<line x1="69.4" y1="926.2" x2="495.4" y2="926.2" stroke="#f1efec" stroke-width="1"/>
<line x1="69.4" y1="955.73" x2="495.4" y2="955.73" stroke="#f1efec" stroke-width="1"/>
<line x1="84" y1="714" x2="84" y2="961.2" stroke="#f1efec" stroke-width="1"/>
<line x1="148.57" y1="714" x2="148.57" y2="961.2" stroke="#f1efec" stroke-width="1"/>
<line x1="213.14" y1="714" x2="213.14" y2="961.2" stroke="#f1efec" stroke-width="1"/>
<line x1="277.7" y1="714" x2="277.7" y2="961.2" stroke="#f1efec" stroke-width="1"/>
<line x1="342.27" y1="714" x2="342.27" y2="961.2" stroke="#f1efec" stroke-width="1"/>
<line x1="406.84" y1="714" x2="406.84" y2="961.2" stroke="#f1efec" stroke-width="1"/>
<line x1="471.41" y1="714" x2="471.41" y2="961.2" stroke="#f1efec" stroke-width="1"/>
<polygon fill="#cde0e4" stroke="#c3d8dc" stroke-width="0.6" stroke-linejoin="round" points="88.61,852.86 93.22,855.6 97.84,851.25 102.45,854.58 107.06,842.56 111.67,834.08 116.28,810.73 120.9,810.99 125.51,810.08 130.12,802.08 134.73,801.75 139.34,786.07 143.96,773.94 148.57,750.59 153.18,761.19 157.79,770.61 162.4,772.95 167.02,782.96 171.63,777.62 176.24,775.83 180.85,762.81 185.46,773.42 190.08,782.84 194.69,785.18 199.3,795.19 203.91,789.85 208.52,788.05 213.14,775.04 217.75,785.64 222.36,795.07 226.97,797.4 231.58,807.42 236.2,802.08 240.81,800.07 245.42,786.84 250.03,797.23 254.64,805.62 259.26,806.92 263.87,815.89 268.48,809.52 273.09,806.68 277.7,792.63 282.32,802.2 286.93,810.58 291.54,811.88 296.15,820.85 300.76,814.48 305.38,811.64 309.99,797.59 314.6,807.16 319.21,815.54 323.82,816.84 328.44,824.51 333.05,816.82 337.66,812.67 342.27,797.31 346.88,805.57 351.5,812.64 356.11,812.63 360.72,820.3 365.33,812.61 369.94,808.47 374.56,793.1 379.17,805.95 383.78,817.62 388.39,822.2 393,834.46 397.62,831.37 402.23,828.23 406.84,813.87 411.45,823.13 416.06,831.21 420.68,832.2 425.29,840.87 429.9,834.19 434.51,831.05 439.12,816.69 443.74,825.95 448.35,834.03 452.96,835.02 457.57,843.69 462.18,837.01 466.8,833.87 471.41,819.51 476.02,828.77 476.02,899.63 471.41,890.37 466.8,904.73 462.18,907.87 457.57,914.55 452.96,905.88 448.35,904.89 443.74,896.81 439.12,887.55 434.51,901.91 429.9,905.05 425.29,911.73 420.68,903.06 416.06,902.07 411.45,893.99 406.84,884.73 402.23,899.09 397.62,902.23 393,905.32 388.39,893.06 383.78,888.48 379.17,876.81 374.56,863.96 369.94,879.33 365.33,883.47 360.72,891.16 356.11,883.49 351.5,883.5 346.88,876.43 342.27,868.17 337.66,883.53 333.05,887.68 328.44,895.37 323.82,887.7 319.21,886.4 314.6,878.02 309.99,868.45 305.38,882.5 300.76,885.34 296.15,891.71 291.54,882.74 286.93,881.44 282.32,873.06 277.7,863.49 273.09,877.54 268.48,880.38 263.87,886.75 259.26,877.78 254.64,876.48 250.03,868.09 245.42,857.7 240.81,870.93 236.2,872.94 231.58,878.28 226.97,868.26 222.36,865.93 217.75,856.5 213.14,845.9 208.52,858.91 203.91,860.71 199.3,866.05 194.69,856.04 190.08,853.7 185.46,844.28 180.85,833.67 176.24,846.69 171.63,848.48 167.02,853.82 162.4,843.81 157.79,841.47 153.18,832.05 148.57,821.45 143.96,844.8 139.34,856.93 134.73,872.61 130.12,872.94 125.51,880.94 120.9,881.85 116.28,881.59 111.67,904.94 107.06,913.42 102.45,925.44 97.84,922.11 93.22,926.46 88.61,923.72"/>
<polyline fill="none" stroke="#2f62b3" stroke-width="1.1" stroke-linejoin="round" points="88.61,888.29 93.22,891.03 97.84,886.68 102.45,890.01 107.06,877.99 111.67,869.51 116.28,846.16 120.9,846.42 125.51,845.51 130.12,837.51 134.73,837.18 139.34,821.5 143.96,809.37 148.57,786.02 153.18,796.62 157.79,806.04 162.4,808.38 167.02,818.39 171.63,813.05 176.24,811.26 180.85,798.24 185.46,808.85 190.08,818.27 194.69,820.61 199.3,830.62 203.91,825.28 208.52,823.48 213.14,810.47 217.75,821.07 222.36,830.5 226.97,832.83 231.58,842.85 236.2,837.51 240.81,835.5 245.42,822.27 250.03,832.66 254.64,841.05 259.26,842.35 263.87,851.32 268.48,844.95 273.09,842.11 277.7,828.06 282.32,837.62 286.93,846.01 291.54,847.31 296.15,856.28 300.76,849.91 305.38,847.07 309.99,833.02 314.6,842.59 319.21,850.97 323.82,852.27 328.44,859.94 333.05,852.25 337.66,848.1 342.27,832.74 346.88,841 351.5,848.07 356.11,848.06 360.72,855.73 365.33,848.04 369.94,843.9 374.56,828.53 379.17,841.38 383.78,853.05 388.39,857.63 393,869.89 397.62,866.8 402.23,863.66 406.84,849.3 411.45,858.56 416.06,866.64 420.68,867.63 425.29,876.3 429.9,869.62 434.51,866.48 439.12,852.12 443.74,861.38 448.35,869.46 452.96,870.45 457.57,879.12 462.18,872.44 466.8,869.3 471.41,854.94 476.02,864.2"/>
<polyline fill="none" stroke="#2b2294" stroke-width="1.2" stroke-linejoin="round" points="88.61,894.79 111.67,870.1 148.57,801.37 236.2,834.55 250.03,839.16 323.82,850.5 374.56,843.88 397.62,863.84 476.02,870.69"/>
<circle cx="88.61" cy="890.77" r="1.45"/>
<circle cx="93.22" cy="878.96" r="1.45"/>
<circle cx="97.84" cy="867.15" r="1.45"/>
<circle cx="102.45" cy="902.58" r="1.45"/>
<circle cx="107.06" cy="902.58" r="1.45"/>
<circle cx="111.67" cy="902.58" r="1.45"/>
<circle cx="116.28" cy="867.15" r="1.45"/>
<circle cx="120.9" cy="819.91" r="1.45"/>
<circle cx="125.51" cy="831.72" r="1.45"/>
<circle cx="130.12" cy="831.72" r="1.45"/>
<circle cx="134.73" cy="808.1" r="1.45"/>
<circle cx="139.34" cy="819.91" r="1.45"/>
<circle cx="143.96" cy="819.91" r="1.45"/>
<circle cx="148.57" cy="772.67" r="1.45"/>
<circle cx="153.18" cy="784.48" r="1.45"/>
<circle cx="157.79" cy="796.29" r="1.45"/>
<circle cx="162.4" cy="819.91" r="1.45"/>
<circle cx="167.02" cy="831.72" r="1.45"/>
<circle cx="171.63" cy="808.1" r="1.45"/>
<circle cx="176.24" cy="819.91" r="1.45"/>
<circle cx="180.85" cy="808.1" r="1.45"/>
<circle cx="185.46" cy="796.29" r="1.45"/>
<circle cx="190.08" cy="819.91" r="1.45"/>
<circle cx="194.69" cy="831.72" r="1.45"/>
<circle cx="199.3" cy="819.91" r="1.45"/>
<circle cx="203.91" cy="831.72" r="1.45"/>
<circle cx="208.52" cy="831.72" r="1.45"/>
<circle cx="213.14" cy="819.91" r="1.45"/>
<circle cx="217.75" cy="819.91" r="1.45"/>
<circle cx="222.36" cy="819.91" r="1.45"/>
<circle cx="226.97" cy="831.72" r="1.45"/>
<circle cx="231.58" cy="855.34" r="1.45"/>
<circle cx="236.2" cy="843.53" r="1.45"/>
<circle cx="240.81" cy="819.91" r="1.45"/>
<circle cx="245.42" cy="831.72" r="1.45"/>
<circle cx="250.03" cy="843.53" r="1.45"/>
<circle cx="254.64" cy="843.53" r="1.45"/>
<circle cx="259.26" cy="843.53" r="1.45"/>
<circle cx="263.87" cy="867.15" r="1.45"/>
<circle cx="268.48" cy="843.53" r="1.45"/>
<circle cx="273.09" cy="831.72" r="1.45"/>
<circle cx="277.7" cy="808.1" r="1.45"/>
<circle cx="282.32" cy="831.72" r="1.45"/>
<circle cx="286.93" cy="855.34" r="1.45"/>
<circle cx="291.54" cy="843.53" r="1.45"/>
<circle cx="296.15" cy="867.15" r="1.45"/>
<circle cx="300.76" cy="843.53" r="1.45"/>
<circle cx="305.38" cy="843.53" r="1.45"/>
<circle cx="309.99" cy="843.53" r="1.45"/>
<circle cx="314.6" cy="843.53" r="1.45"/>
<circle cx="319.21" cy="855.34" r="1.45"/>
<circle cx="323.82" cy="855.34" r="1.45"/>
<circle cx="328.44" cy="867.15" r="1.45"/>
<circle cx="333.05" cy="855.34" r="1.45"/>
<circle cx="337.66" cy="855.34" r="1.45"/>
<circle cx="342.27" cy="843.53" r="1.45"/>
<circle cx="346.88" cy="855.34" r="1.45"/>
<circle cx="351.5" cy="843.53" r="1.45"/>
<circle cx="356.11" cy="855.34" r="1.45"/>
<circle cx="360.72" cy="902.58" r="1.45"/>
<circle cx="365.33" cy="725.43" r="1.45"/>
<circle cx="369.94" cy="855.34" r="1.45"/>
<circle cx="374.56" cy="819.91" r="1.45"/>
<circle cx="379.17" cy="855.34" r="1.45"/>
<circle cx="383.78" cy="843.53" r="1.45"/>
<circle cx="388.39" cy="855.34" r="1.45"/>
<circle cx="393" cy="878.96" r="1.45"/>
<circle cx="397.62" cy="855.34" r="1.45"/>
<circle cx="402.23" cy="867.15" r="1.45"/>
<circle cx="406.84" cy="855.34" r="1.45"/>
<circle cx="411.45" cy="867.15" r="1.45"/>
<circle cx="416.06" cy="890.77" r="1.45"/>
<circle cx="420.68" cy="878.96" r="1.45"/>
<circle cx="425.29" cy="914.39" r="1.45"/>
<circle cx="429.9" cy="949.82" r="1.45"/>
<circle cx="434.51" cy="796.29" r="1.45"/>
<circle cx="439.12" cy="772.67" r="1.45"/>
<circle cx="443.74" cy="902.58" r="1.45"/>
<circle cx="448.35" cy="914.39" r="1.45"/>
<circle cx="452.96" cy="867.15" r="1.45"/>
<circle cx="457.57" cy="760.86" r="1.45"/>
<circle cx="462.18" cy="890.77" r="1.45"/>
<circle cx="466.8" cy="902.58" r="1.45"/>
<circle cx="471.41" cy="890.77" r="1.45"/>
<circle cx="476.02" cy="843.53" r="1.45"/>
<line x1="139.34" y1="714" x2="139.34" y2="961.2" stroke="#35299a" stroke-width="1.35" stroke-dasharray="4,1.4"/>
<line x1="148.57" y1="714" x2="148.57" y2="961.2" stroke="#35299a" stroke-width="1.35" stroke-dasharray="4,1.4"/>
<line x1="236.2" y1="714" x2="236.2" y2="961.2" stroke="#35299a" stroke-width="1.35" stroke-dasharray="4,1.4"/>
<line x1="250.03" y1="714" x2="250.03" y2="961.2" stroke="#35299a" stroke-width="1.35" stroke-dasharray="4,1.4"/>
<line x1="323.82" y1="714" x2="323.82" y2="961.2" stroke="#35299a" stroke-width="1.35" stroke-dasharray="4,1.4"/>
<line x1="374.56" y1="714" x2="374.56" y2="961.2" stroke="#35299a" stroke-width="1.35" stroke-dasharray="4,1.4"/>
<line x1="397.62" y1="714" x2="397.62" y2="961.2" stroke="#35299a" stroke-width="1.35" stroke-dasharray="4,1.4"/>
<line x1="111.67" y1="714" x2="111.67" y2="961.2" stroke="#ff0000" stroke-width="2.2"/>
<path d="M69.4 714H386.3 M69.4 713.35V961.2H495.4V713.6" fill="none" stroke="#77716d" stroke-width="1.3"/>
<line x1="386.3" y1="714" x2="495.4" y2="714" stroke="#a9a5a2" stroke-width="0.9"/>
<line x1="66.4" y1="719.53" x2="69.4" y2="719.53" stroke="#77716d" stroke-width="1.2"/>
<line x1="66.4" y1="749.05" x2="69.4" y2="749.05" stroke="#77716d" stroke-width="1.2"/>
<line x1="66.4" y1="778.58" x2="69.4" y2="778.58" stroke="#77716d" stroke-width="1.2"/>
<line x1="66.4" y1="808.1" x2="69.4" y2="808.1" stroke="#77716d" stroke-width="1.2"/>
<line x1="66.4" y1="837.62" x2="69.4" y2="837.62" stroke="#77716d" stroke-width="1.2"/>
<line x1="66.4" y1="867.15" x2="69.4" y2="867.15" stroke="#77716d" stroke-width="1.2"/>
<line x1="66.4" y1="896.68" x2="69.4" y2="896.68" stroke="#77716d" stroke-width="1.2"/>
<line x1="66.4" y1="926.2" x2="69.4" y2="926.2" stroke="#77716d" stroke-width="1.2"/>
<line x1="66.4" y1="955.73" x2="69.4" y2="955.73" stroke="#77716d" stroke-width="1.2"/>
<line x1="84" y1="961.2" x2="84" y2="964.2" stroke="#77716d" stroke-width="1.2"/>
<line x1="148.57" y1="961.2" x2="148.57" y2="964.2" stroke="#77716d" stroke-width="1.2"/>
<line x1="213.14" y1="961.2" x2="213.14" y2="964.2" stroke="#77716d" stroke-width="1.2"/>
<line x1="277.7" y1="961.2" x2="277.7" y2="964.2" stroke="#77716d" stroke-width="1.2"/>
<line x1="342.27" y1="961.2" x2="342.27" y2="964.2" stroke="#77716d" stroke-width="1.2"/>
<line x1="406.84" y1="961.2" x2="406.84" y2="964.2" stroke="#77716d" stroke-width="1.2"/>
<line x1="471.41" y1="961.2" x2="471.41" y2="964.2" stroke="#77716d" stroke-width="1.2"/>
</g>
<g class="t">
<text x="27.41" y="723.73" font-size="12" textLength="29.84" lengthAdjust="spacingAndGlyphs">17.5%</text>
<text x="24.12" y="753.03" font-size="12" textLength="33.16" lengthAdjust="spacingAndGlyphs">15.0%</text>
<text x="24.94" y="782.13" font-size="12" textLength="32.33" lengthAdjust="spacingAndGlyphs">12.5%</text>
<text x="23.2" y="811.43" font-size="12" textLength="34.1" lengthAdjust="spacingAndGlyphs">10.0%</text>
<text x="30.62" y="841.73" font-size="12" textLength="26.38" lengthAdjust="spacingAndGlyphs">7.5%</text>
<text x="27.99" y="870.93" font-size="12" textLength="29.05" lengthAdjust="spacingAndGlyphs">5.0%</text>
<text x="29.29" y="900.33" font-size="12" textLength="27.73" lengthAdjust="spacingAndGlyphs">2.5%</text>
<text x="37.56" y="929.83" font-size="12" textLength="19.52" lengthAdjust="spacingAndGlyphs">0%</text>
<text x="22.4" y="958.23" font-size="12" textLength="34.61" lengthAdjust="spacingAndGlyphs">−2.5%</text>
<text x="67.27" y="979.3" font-size="11.6" textLength="34.28" lengthAdjust="spacingAndGlyphs">14 Feb</text>
<text x="129.11" y="979.3" font-size="11.6" textLength="36.46" lengthAdjust="spacingAndGlyphs">28 Feb</text>
<text x="196.79" y="979.3" font-size="11.6" textLength="33.47" lengthAdjust="spacingAndGlyphs">13 Mar</text>
<text x="259.85" y="979.3" font-size="11.6" textLength="34.52" lengthAdjust="spacingAndGlyphs">27 Mar</text>
<text x="326.35" y="979.3" font-size="11.6" textLength="32.84" lengthAdjust="spacingAndGlyphs">10 Apr</text>
<text x="386.51" y="979.3" font-size="11.6" textLength="34.29" lengthAdjust="spacingAndGlyphs">24 Apr</text>
<text x="455" y="979.3" font-size="11.6" textLength="32.34" lengthAdjust="spacingAndGlyphs">8 May</text>
<text x="264.61" y="1005.7" font-size="11.8" textLength="25.22" lengthAdjust="spacingAndGlyphs">Date</text>
<text transform="translate(10.3,903.7) rotate(-90)" x="-0.71" y="0" font-size="14" textLength="138.63" lengthAdjust="spacingAndGlyphs">Change from baseline</text>
</g>
<rect x="362.4" y="734.2" width="130" height="20.1" fill="#fff" fill-opacity="1" stroke="#3a3a3a" stroke-width="1.3"/>
<line x1="365.1" y1="744.25" x2="378.2" y2="744.25" stroke="#cc0000" stroke-width="3.2"/>
<g class="t2">
<text x="382.31" y="747.6" font-size="10.4" textLength="101.01" lengthAdjust="spacingAndGlyphs">Effective lockdown date</text>
</g>
<rect x="405.7" y="926.6" width="57.6" height="10.2" fill="#fff"/>
<g class="t2">
<text x="406.25" y="934.5" font-size="10.5" textLength="56.05" lengthAdjust="spacingAndGlyphs">South Korea</text>
</g>
<g>
<line x1="616.2" y1="41.94" x2="1053.4" y2="41.94" stroke="#f1efec" stroke-width="1"/>
<line x1="616.2" y1="86" x2="1053.4" y2="86" stroke="#f1efec" stroke-width="1"/>
<line x1="616.2" y1="130.06" x2="1053.4" y2="130.06" stroke="#f1efec" stroke-width="1"/>
<line x1="616.2" y1="174.12" x2="1053.4" y2="174.12" stroke="#f1efec" stroke-width="1"/>
<line x1="616.2" y1="218.18" x2="1053.4" y2="218.18" stroke="#f1efec" stroke-width="1"/>
<line x1="616.2" y1="262.24" x2="1053.4" y2="262.24" stroke="#f1efec" stroke-width="1"/>
<line x1="631.1" y1="26" x2="631.1" y2="278.5" stroke="#f1efec" stroke-width="1"/>
<line x1="697.43" y1="26" x2="697.43" y2="278.5" stroke="#f1efec" stroke-width="1"/>
<line x1="763.76" y1="26" x2="763.76" y2="278.5" stroke="#f1efec" stroke-width="1"/>
<line x1="830.1" y1="26" x2="830.1" y2="278.5" stroke="#f1efec" stroke-width="1"/>
<line x1="896.43" y1="26" x2="896.43" y2="278.5" stroke="#f1efec" stroke-width="1"/>
<line x1="962.76" y1="26" x2="962.76" y2="278.5" stroke="#f1efec" stroke-width="1"/>
<line x1="1029.09" y1="26" x2="1029.09" y2="278.5" stroke="#f1efec" stroke-width="1"/>
<polygon fill="#cde0e4" stroke="#c3d8dc" stroke-width="0.6" stroke-linejoin="round" points="635.84,42.16 640.58,48.59 645.31,48.19 650.05,37.54 654.79,38.13 659.53,39.28 664.27,41.3 669,42.44 673.74,48.87 678.48,48.47 683.22,37.82 687.96,38.42 692.69,39.98 697.43,42.43 702.17,44 706.91,50.85 711.65,50.87 716.38,40.65 721.12,41.67 725.86,43.24 730.6,45.69 735.34,47.25 740.07,54.11 744.81,54.13 749.55,43.91 754.29,44.93 759.03,46.49 763.76,48.94 768.5,50.51 773.24,57.36 777.98,62.19 782.72,56.78 787.45,62.6 792.19,68.97 796.93,76.23 801.67,82.6 806.41,94.26 811.14,99.09 815.88,93.68 820.62,99.5 825.36,105.87 830.1,113.13 834.83,119.5 839.57,131.16 844.31,135.64 849.05,129.88 853.79,135.35 858.52,139.75 863.26,145.04 868,149.45 872.74,159.14 877.48,162 882.21,154.62 886.95,158.48 891.69,162.88 896.43,168.17 901.17,172.58 905.9,176.57 910.64,173.73 915.38,160.65 920.12,158.81 924.86,157.51 929.59,157.1 934.33,155.81 939.07,159.8 943.81,158.01 948.55,145.97 953.28,145.16 958.02,144.91 962.76,145.54 967.5,145.28 972.24,150.32 976.97,148.52 981.71,136.48 986.45,135.68 991.19,135.42 995.93,136.05 1000.66,135.8 1005.4,140.83 1010.14,139.04 1014.88,127 1019.62,126.19 1024.35,125.94 1029.09,126.57 1033.83,126.31 1033.83,168.17 1029.09,168.43 1024.35,167.8 1019.62,168.05 1014.88,168.85 1010.14,180.89 1005.4,182.69 1000.66,177.66 995.93,177.91 991.19,177.28 986.45,177.53 981.71,178.34 976.97,190.38 972.24,192.17 967.5,187.14 962.76,187.39 958.02,186.77 953.28,187.02 948.55,187.82 943.81,199.86 939.07,201.66 934.33,197.66 929.59,198.96 924.86,199.37 920.12,200.67 915.38,202.51 910.64,215.59 905.9,218.43 901.17,214.43 896.43,210.03 891.69,204.74 886.95,200.34 882.21,196.48 877.48,203.86 872.74,201 868,191.3 863.26,186.9 858.52,181.61 853.79,177.2 849.05,171.73 844.31,177.5 839.57,173.02 834.83,161.36 830.1,154.99 825.36,147.73 820.62,141.36 815.88,135.54 811.14,140.95 806.41,136.12 801.67,124.46 796.93,118.09 792.19,110.83 787.45,104.46 782.72,98.64 777.98,104.05 773.24,99.22 768.5,92.36 763.76,90.8 759.03,88.35 754.29,86.78 749.55,85.77 744.81,95.99 740.07,95.96 735.34,89.11 730.6,87.54 725.86,85.09 721.12,83.53 716.38,82.51 711.65,92.73 706.91,92.71 702.17,85.85 697.43,84.29 692.69,81.84 687.96,80.27 683.22,79.68 678.48,90.33 673.74,90.73 669,84.3 664.27,83.16 659.53,81.13 654.79,79.99 650.05,79.4 645.31,90.05 640.58,90.45 635.84,84.02"/>
<polyline fill="none" stroke="#2f62b3" stroke-width="1.1" stroke-linejoin="round" points="635.84,63.09 640.58,69.52 645.31,69.12 650.05,58.47 654.79,59.06 659.53,60.2 664.27,62.23 669,63.37 673.74,69.8 678.48,69.4 683.22,58.75 687.96,59.34 692.69,60.91 697.43,63.36 702.17,64.92 706.91,71.78 711.65,71.8 716.38,61.58 721.12,62.6 725.86,64.17 730.6,66.61 735.34,68.18 740.07,75.03 744.81,75.06 749.55,64.84 754.29,65.85 759.03,67.42 763.76,69.87 768.5,71.44 773.24,78.29 777.98,83.12 782.72,77.71 787.45,83.53 792.19,89.9 796.93,97.16 801.67,103.53 806.41,115.19 811.14,120.02 815.88,114.61 820.62,120.43 825.36,126.8 830.1,134.06 834.83,140.43 839.57,152.09 844.31,156.57 849.05,150.8 853.79,156.28 858.52,160.68 863.26,165.97 868,170.37 872.74,180.07 877.48,182.93 882.21,175.55 886.95,179.41 891.69,183.81 896.43,189.1 901.17,193.51 905.9,197.5 910.64,194.66 915.38,181.58 920.12,179.74 924.86,178.44 929.59,178.03 934.33,176.74 939.07,180.73 943.81,178.93 948.55,166.89 953.28,166.09 958.02,165.84 962.76,166.46 967.5,166.21 972.24,171.25 976.97,169.45 981.71,157.41 986.45,156.61 991.19,156.35 995.93,156.98 1000.66,156.73 1005.4,161.76 1010.14,159.97 1014.88,147.93 1019.62,147.12 1024.35,146.87 1029.09,147.5 1033.83,147.24"/>
<polyline fill="none" stroke="#2b2294" stroke-width="1.2" stroke-linejoin="round" points="635.84,62.87 687.96,63.31 773.24,71.68 839.57,145.48 853.79,160.24 901.17,193.29 939.07,174.12 1033.83,147.02"/>
<circle cx="635.84" cy="79.39" r="1.45"/>
<circle cx="640.58" cy="88.2" r="1.45"/>
<circle cx="645.31" cy="48.55" r="1.45"/>
<circle cx="650.05" cy="55.16" r="1.45"/>
<circle cx="654.79" cy="57.36" r="1.45"/>
<circle cx="659.53" cy="57.36" r="1.45"/>
<circle cx="664.27" cy="50.75" r="1.45"/>
<circle cx="669" cy="79.39" r="1.45"/>
<circle cx="673.74" cy="90.41" r="1.45"/>
<circle cx="678.48" cy="48.55" r="1.45"/>
<circle cx="683.22" cy="52.96" r="1.45"/>
<circle cx="687.96" cy="55.16" r="1.45"/>
<circle cx="692.69" cy="55.16" r="1.45"/>
<circle cx="697.43" cy="48.55" r="1.45"/>
<circle cx="702.17" cy="77.19" r="1.45"/>
<circle cx="706.91" cy="88.2" r="1.45"/>
<circle cx="711.65" cy="63.97" r="1.45"/>
<circle cx="716.38" cy="52.96" r="1.45"/>
<circle cx="721.12" cy="55.16" r="1.45"/>
<circle cx="725.86" cy="57.36" r="1.45"/>
<circle cx="730.6" cy="50.75" r="1.45"/>
<circle cx="735.34" cy="81.59" r="1.45"/>
<circle cx="740.07" cy="90.41" r="1.45"/>
<circle cx="744.81" cy="116.84" r="1.45"/>
<circle cx="749.55" cy="57.36" r="1.45"/>
<circle cx="754.29" cy="55.16" r="1.45"/>
<circle cx="759.03" cy="57.36" r="1.45"/>
<circle cx="763.76" cy="55.16" r="1.45"/>
<circle cx="768.5" cy="79.39" r="1.45"/>
<circle cx="773.24" cy="88.2" r="1.45"/>
<circle cx="777.98" cy="59.56" r="1.45"/>
<circle cx="782.72" cy="74.98" r="1.45"/>
<circle cx="787.45" cy="81.59" r="1.45"/>
<circle cx="792.19" cy="86" r="1.45"/>
<circle cx="796.93" cy="86" r="1.45"/>
<circle cx="801.67" cy="94.81" r="1.45"/>
<circle cx="806.41" cy="112.44" r="1.45"/>
<circle cx="811.14" cy="99.22" r="1.45"/>
<circle cx="815.88" cy="127.86" r="1.45"/>
<circle cx="820.62" cy="136.67" r="1.45"/>
<circle cx="825.36" cy="145.48" r="1.45"/>
<circle cx="830.1" cy="143.28" r="1.45"/>
<circle cx="834.83" cy="145.48" r="1.45"/>
<circle cx="839.57" cy="158.7" r="1.45"/>
<circle cx="844.31" cy="156.5" r="1.45"/>
<circle cx="849.05" cy="165.31" r="1.45"/>
<circle cx="853.79" cy="167.51" r="1.45"/>
<circle cx="858.52" cy="169.71" r="1.45"/>
<circle cx="863.26" cy="165.31" r="1.45"/>
<circle cx="868" cy="158.7" r="1.45"/>
<circle cx="872.74" cy="165.31" r="1.45"/>
<circle cx="877.48" cy="167.51" r="1.45"/>
<circle cx="882.21" cy="171.92" r="1.45"/>
<circle cx="886.95" cy="171.92" r="1.45"/>
<circle cx="891.69" cy="174.12" r="1.45"/>
<circle cx="896.43" cy="266.65" r="1.45"/>
<circle cx="901.17" cy="176.32" r="1.45"/>
<circle cx="905.9" cy="180.73" r="1.45"/>
<circle cx="910.64" cy="257.83" r="1.45"/>
<circle cx="915.38" cy="178.53" r="1.45"/>
<circle cx="920.12" cy="176.32" r="1.45"/>
<circle cx="924.86" cy="176.32" r="1.45"/>
<circle cx="929.59" cy="171.92" r="1.45"/>
<circle cx="934.33" cy="152.09" r="1.45"/>
<circle cx="939.07" cy="160.9" r="1.45"/>
<circle cx="943.81" cy="163.1" r="1.45"/>
<circle cx="948.55" cy="167.51" r="1.45"/>
<circle cx="953.28" cy="167.51" r="1.45"/>
<circle cx="958.02" cy="167.51" r="1.45"/>
<circle cx="962.76" cy="163.1" r="1.45"/>
<circle cx="967.5" cy="180.73" r="1.45"/>
<circle cx="972.24" cy="156.5" r="1.45"/>
<circle cx="976.97" cy="171.92" r="1.45"/>
<circle cx="981.71" cy="160.9" r="1.45"/>
<circle cx="986.45" cy="160.9" r="1.45"/>
<circle cx="991.19" cy="160.9" r="1.45"/>
<circle cx="995.93" cy="154.29" r="1.45"/>
<circle cx="1000.66" cy="145.48" r="1.45"/>
<circle cx="1005.4" cy="149.89" r="1.45"/>
<circle cx="1010.14" cy="176.32" r="1.45"/>
<circle cx="1014.88" cy="154.29" r="1.45"/>
<circle cx="1019.62" cy="154.29" r="1.45"/>
<circle cx="1024.35" cy="154.29" r="1.45"/>
<circle cx="1029.09" cy="147.68" r="1.45"/>
<circle cx="1033.83" cy="136.67" r="1.45"/>
<line x1="687.96" y1="26" x2="687.96" y2="278.5" stroke="#35299a" stroke-width="1.35" stroke-dasharray="4,1.4"/>
<line x1="839.57" y1="26" x2="839.57" y2="278.5" stroke="#35299a" stroke-width="1.35" stroke-dasharray="4,1.4"/>
<line x1="853.79" y1="26" x2="853.79" y2="278.5" stroke="#35299a" stroke-width="1.35" stroke-dasharray="4,1.4"/>
<line x1="901.17" y1="26" x2="901.17" y2="278.5" stroke="#35299a" stroke-width="1.35" stroke-dasharray="4,1.4"/>
<line x1="939.07" y1="26" x2="939.07" y2="278.5" stroke="#35299a" stroke-width="1.35" stroke-dasharray="4,1.4"/>
<line x1="773.24" y1="26" x2="773.24" y2="278.5" stroke="#ff0000" stroke-width="2.2"/>
<rect x="616.2" y="26" width="437.2" height="252.5" fill="none" stroke="#77716d" stroke-width="1.4"/>
<line x1="613.2" y1="41.94" x2="616.2" y2="41.94" stroke="#77716d" stroke-width="1.2"/>
<line x1="613.2" y1="86" x2="616.2" y2="86" stroke="#77716d" stroke-width="1.2"/>
<line x1="613.2" y1="130.06" x2="616.2" y2="130.06" stroke="#77716d" stroke-width="1.2"/>
<line x1="613.2" y1="174.12" x2="616.2" y2="174.12" stroke="#77716d" stroke-width="1.2"/>
<line x1="613.2" y1="218.18" x2="616.2" y2="218.18" stroke="#77716d" stroke-width="1.2"/>
<line x1="613.2" y1="262.24" x2="616.2" y2="262.24" stroke="#77716d" stroke-width="1.2"/>
<line x1="631.1" y1="278.5" x2="631.1" y2="281.5" stroke="#77716d" stroke-width="1.2"/>
<line x1="697.43" y1="278.5" x2="697.43" y2="281.5" stroke="#77716d" stroke-width="1.2"/>
<line x1="763.76" y1="278.5" x2="763.76" y2="281.5" stroke="#77716d" stroke-width="1.2"/>
<line x1="830.1" y1="278.5" x2="830.1" y2="281.5" stroke="#77716d" stroke-width="1.2"/>
<line x1="896.43" y1="278.5" x2="896.43" y2="281.5" stroke="#77716d" stroke-width="1.2"/>
<line x1="962.76" y1="278.5" x2="962.76" y2="281.5" stroke="#77716d" stroke-width="1.2"/>
<line x1="1029.09" y1="278.5" x2="1029.09" y2="281.5" stroke="#77716d" stroke-width="1.2"/>
</g>
<g class="t">
<text x="576.94" y="48.13" font-size="12" textLength="26.41" lengthAdjust="spacingAndGlyphs">20%</text>
<text x="595.53" y="91.93" font-size="12" textLength="7.92" lengthAdjust="spacingAndGlyphs">0</text>
<text x="569.95" y="129.83" font-size="12" textLength="33.37" lengthAdjust="spacingAndGlyphs">−20%</text>
<text x="569.75" y="169.83" font-size="12" textLength="33.58" lengthAdjust="spacingAndGlyphs">−40%</text>
<text x="569.75" y="214.33" font-size="12" textLength="33.58" lengthAdjust="spacingAndGlyphs">−60%</text>
<text x="568.11" y="264.83" font-size="12" textLength="35.54" lengthAdjust="spacingAndGlyphs">−80%</text>
<text x="610.69" y="295.4" font-size="11.6" textLength="33.55" lengthAdjust="spacingAndGlyphs">14 Feb</text>
<text x="673.71" y="295.4" font-size="11.6" textLength="36.46" lengthAdjust="spacingAndGlyphs">28 Feb</text>
<text x="736.31" y="295.4" font-size="11.6" textLength="32.95" lengthAdjust="spacingAndGlyphs">13 Mar</text>
<text x="802.74" y="295.4" font-size="11.6" textLength="34.72" lengthAdjust="spacingAndGlyphs">27 Mar</text>
<text x="869.35" y="295.4" font-size="11.6" textLength="32.73" lengthAdjust="spacingAndGlyphs">10 Apr</text>
<text x="935.22" y="295.4" font-size="11.6" textLength="33.67" lengthAdjust="spacingAndGlyphs">24 Apr</text>
<text x="1006.01" y="295.4" font-size="11.6" textLength="31.33" lengthAdjust="spacingAndGlyphs">8 May</text>
<text x="811.43" y="318.1" font-size="11.8" textLength="24.9" lengthAdjust="spacingAndGlyphs">Date</text>
<text transform="translate(552,194.4) rotate(-90)" x="-0.71" y="0" font-size="14" textLength="138.83" lengthAdjust="spacingAndGlyphs">Change from baseline</text>
</g>
<rect x="909.9" y="38.5" width="129.7" height="20.4" fill="#fff" fill-opacity="1" stroke="#3a3a3a" stroke-width="1.3"/>
<line x1="912.6" y1="48.7" x2="925.7" y2="48.7" stroke="#cc0000" stroke-width="3.2"/>
<g class="t2">
<text x="929.51" y="52.1" font-size="10.4" textLength="100.91" lengthAdjust="spacingAndGlyphs">Effective lockdown date</text>
</g>
<rect x="961.9" y="256.7" width="41.4" height="10.2" fill="#fff"/>
<g class="t2">
<text x="962.87" y="264.6" font-size="10.5" textLength="39.41" lengthAdjust="spacingAndGlyphs">Australia</text>
</g>
<g>
<line x1="614.2" y1="374.52" x2="1054" y2="374.52" stroke="#f1efec" stroke-width="1"/>
<line x1="614.2" y1="419.8" x2="1054" y2="419.8" stroke="#f1efec" stroke-width="1"/>
<line x1="614.2" y1="465.08" x2="1054" y2="465.08" stroke="#f1efec" stroke-width="1"/>
<line x1="614.2" y1="510.36" x2="1054" y2="510.36" stroke="#f1efec" stroke-width="1"/>
<line x1="614.2" y1="555.64" x2="1054" y2="555.64" stroke="#f1efec" stroke-width="1"/>
<line x1="614.2" y1="600.92" x2="1054" y2="600.92" stroke="#f1efec" stroke-width="1"/>
<line x1="629.6" y1="363.7" x2="629.6" y2="617.5" stroke="#f1efec" stroke-width="1"/>
<line x1="696.18" y1="363.7" x2="696.18" y2="617.5" stroke="#f1efec" stroke-width="1"/>
<line x1="762.77" y1="363.7" x2="762.77" y2="617.5" stroke="#f1efec" stroke-width="1"/>
<line x1="829.35" y1="363.7" x2="829.35" y2="617.5" stroke="#f1efec" stroke-width="1"/>
<line x1="895.94" y1="363.7" x2="895.94" y2="617.5" stroke="#f1efec" stroke-width="1"/>
<line x1="962.52" y1="363.7" x2="962.52" y2="617.5" stroke="#f1efec" stroke-width="1"/>
<line x1="1029.1" y1="363.7" x2="1029.1" y2="617.5" stroke="#f1efec" stroke-width="1"/>
<polygon fill="#cde0e4" stroke="#c3d8dc" stroke-width="0.6" stroke-linejoin="round" points="634.36,390.75 639.11,393.87 643.87,421.41 648.62,410.08 653.38,408.83 658.14,411.42 662.89,428.52 667.65,382.22 672.4,386.25 677.16,414.71 681.92,404.3 686.67,403.96 691.43,407.47 696.18,424.56 700.94,378.27 705.7,382.3 710.45,410.76 715.21,400.34 719.96,400.01 724.72,403.52 729.48,420.61 734.23,374.31 738.99,378.34 743.74,406.8 748.5,396.39 753.26,402.6 758.01,412.66 762.77,436.3 767.52,396.55 772.28,407.13 777.04,442.13 781.79,438.27 786.55,444.48 791.3,449.57 796.06,468.25 800.82,423.54 805.57,429.15 810.33,459.19 815.08,450.36 819.84,451.02 824.6,455.53 829.35,473.62 834.11,428.31 838.86,433.34 843.62,462.79 848.38,453.38 853.13,454.03 857.89,458.54 862.64,476.63 867.4,436.89 872.16,447.49 876.91,482.51 881.67,478.66 886.42,484.89 891.18,494.96 895.94,518.62 900.69,478.89 905.45,475.75 910.2,497.04 914.96,479.46 919.72,471.95 924.47,468.29 929.23,478.21 933.98,429.76 938.74,431.64 943.5,460.57 948.25,450.64 953.01,450.77 957.76,454.76 962.52,472.32 967.28,426.5 972.03,431.01 976.79,459.94 981.54,450 986.3,450.14 991.06,454.12 995.81,471.69 1000.57,425.87 1005.32,430.37 1010.08,459.31 1014.84,449.37 1019.59,449.5 1024.35,453.49 1029.1,471.06 1033.86,425.23 1033.86,475.04 1029.1,520.86 1024.35,503.3 1019.59,499.31 1014.84,499.18 1010.08,509.11 1005.32,480.18 1000.57,475.68 995.81,521.5 991.06,503.93 986.3,499.95 981.54,499.81 976.79,509.75 972.03,480.81 967.28,476.31 962.52,522.13 957.76,504.56 953.01,500.58 948.25,500.44 943.5,510.38 938.74,481.45 933.98,479.57 929.23,528.02 924.47,518.1 919.72,521.76 914.96,529.26 910.2,546.85 905.45,525.56 900.69,528.7 895.94,568.43 891.18,544.77 886.42,534.7 881.67,528.47 876.91,532.32 872.16,497.3 867.4,486.7 862.64,526.43 857.89,508.35 853.13,503.84 848.38,503.18 843.62,512.6 838.86,483.15 834.11,478.12 829.35,523.42 824.6,505.33 819.84,500.83 815.08,500.17 810.33,509 805.57,478.96 800.82,473.34 796.06,518.06 791.3,499.38 786.55,494.29 781.79,488.08 777.04,491.94 772.28,456.94 767.52,446.36 762.77,486.11 758.01,462.47 753.26,452.41 748.5,446.2 743.74,456.61 738.99,428.15 734.23,424.12 729.48,470.42 724.72,453.32 719.96,449.81 715.21,450.15 710.45,460.57 705.7,432.11 700.94,428.07 696.18,474.37 691.43,457.28 686.67,453.77 681.92,454.11 677.16,464.52 672.4,436.06 667.65,432.03 662.89,478.33 658.14,461.23 653.38,458.64 648.62,459.89 643.87,471.22 639.11,443.68 634.36,440.56"/>
<polyline fill="none" stroke="#2f62b3" stroke-width="1.1" stroke-linejoin="round" points="634.36,415.66 639.11,418.77 643.87,446.32 648.62,434.99 653.38,433.73 658.14,436.33 662.89,453.42 667.65,407.12 672.4,411.16 677.16,439.61 681.92,429.2 686.67,428.86 691.43,432.37 696.18,449.47 700.94,403.17 705.7,407.2 710.45,435.66 715.21,425.25 719.96,424.91 724.72,428.42 729.48,445.51 734.23,399.22 738.99,403.25 743.74,431.71 748.5,421.29 753.26,427.5 758.01,437.56 762.77,461.2 767.52,421.45 772.28,432.03 777.04,467.04 781.79,463.17 786.55,469.38 791.3,474.48 796.06,493.15 800.82,448.44 805.57,454.05 810.33,484.1 815.08,475.27 819.84,475.92 824.6,480.43 829.35,498.52 834.11,453.22 838.86,458.24 843.62,487.7 848.38,478.28 853.13,478.94 857.89,483.44 862.64,501.53 867.4,461.8 872.16,472.39 876.91,507.42 881.67,503.57 886.42,509.79 891.18,519.87 895.94,543.53 900.69,503.79 905.45,500.65 910.2,521.94 914.96,504.36 919.72,496.85 924.47,493.19 929.23,503.12 933.98,454.67 938.74,456.54 943.5,485.48 948.25,475.54 953.01,475.68 957.76,479.66 962.52,497.23 967.28,451.41 972.03,455.91 976.79,484.84 981.54,474.91 986.3,475.04 991.06,479.03 995.81,496.59 1000.57,450.77 1005.32,455.28 1010.08,484.21 1014.84,474.27 1019.59,474.41 1024.35,478.39 1029.1,495.96 1033.86,450.14"/>
<polyline fill="none" stroke="#2b2294" stroke-width="1.2" stroke-linejoin="round" points="634.36,438.52 658.14,431.12 748.5,420.39 786.55,468.25 815.08,474.36 862.64,478.66 900.69,526.66 929.23,480.25 938.74,474.82 1033.86,473"/>
<circle cx="634.36" cy="424.33" r="1.45"/>
<circle cx="639.11" cy="431.12" r="1.45"/>
<circle cx="643.87" cy="433.38" r="1.45"/>
<circle cx="648.62" cy="431.12" r="1.45"/>
<circle cx="653.38" cy="431.12" r="1.45"/>
<circle cx="658.14" cy="433.38" r="1.45"/>
<circle cx="662.89" cy="435.65" r="1.45"/>
<circle cx="667.65" cy="426.59" r="1.45"/>
<circle cx="672.4" cy="422.06" r="1.45"/>
<circle cx="677.16" cy="428.86" r="1.45"/>
<circle cx="681.92" cy="428.86" r="1.45"/>
<circle cx="686.67" cy="428.86" r="1.45"/>
<circle cx="691.43" cy="431.12" r="1.45"/>
<circle cx="696.18" cy="433.38" r="1.45"/>
<circle cx="700.94" cy="419.8" r="1.45"/>
<circle cx="705.7" cy="424.33" r="1.45"/>
<circle cx="710.45" cy="424.33" r="1.45"/>
<circle cx="715.21" cy="424.33" r="1.45"/>
<circle cx="719.96" cy="424.33" r="1.45"/>
<circle cx="724.72" cy="424.33" r="1.45"/>
<circle cx="729.48" cy="424.33" r="1.45"/>
<circle cx="734.23" cy="419.8" r="1.45"/>
<circle cx="738.99" cy="422.06" r="1.45"/>
<circle cx="743.74" cy="419.8" r="1.45"/>
<circle cx="748.5" cy="419.8" r="1.45"/>
<circle cx="753.26" cy="422.06" r="1.45"/>
<circle cx="758.01" cy="428.86" r="1.45"/>
<circle cx="762.77" cy="442.44" r="1.45"/>
<circle cx="767.52" cy="433.38" r="1.45"/>
<circle cx="772.28" cy="442.44" r="1.45"/>
<circle cx="777.04" cy="458.29" r="1.45"/>
<circle cx="781.79" cy="467.34" r="1.45"/>
<circle cx="786.55" cy="480.93" r="1.45"/>
<circle cx="791.3" cy="483.19" r="1.45"/>
<circle cx="796.06" cy="483.19" r="1.45"/>
<circle cx="800.82" cy="449.23" r="1.45"/>
<circle cx="805.57" cy="453.76" r="1.45"/>
<circle cx="810.33" cy="480.93" r="1.45"/>
<circle cx="815.08" cy="483.19" r="1.45"/>
<circle cx="819.84" cy="483.19" r="1.45"/>
<circle cx="824.6" cy="483.19" r="1.45"/>
<circle cx="829.35" cy="485.46" r="1.45"/>
<circle cx="834.11" cy="453.76" r="1.45"/>
<circle cx="838.86" cy="460.55" r="1.45"/>
<circle cx="843.62" cy="485.46" r="1.45"/>
<circle cx="848.38" cy="485.46" r="1.45"/>
<circle cx="853.13" cy="485.46" r="1.45"/>
<circle cx="857.89" cy="487.72" r="1.45"/>
<circle cx="862.64" cy="489.98" r="1.45"/>
<circle cx="867.4" cy="456.02" r="1.45"/>
<circle cx="872.16" cy="460.55" r="1.45"/>
<circle cx="876.91" cy="501.3" r="1.45"/>
<circle cx="881.67" cy="501.3" r="1.45"/>
<circle cx="886.42" cy="503.57" r="1.45"/>
<circle cx="891.18" cy="519.42" r="1.45"/>
<circle cx="895.94" cy="600.92" r="1.45"/>
<circle cx="900.69" cy="474.14" r="1.45"/>
<circle cx="905.45" cy="474.14" r="1.45"/>
<circle cx="910.2" cy="605.45" r="1.45"/>
<circle cx="914.96" cy="489.98" r="1.45"/>
<circle cx="919.72" cy="489.98" r="1.45"/>
<circle cx="924.47" cy="489.98" r="1.45"/>
<circle cx="929.23" cy="492.25" r="1.45"/>
<circle cx="933.98" cy="446.97" r="1.45"/>
<circle cx="938.74" cy="449.23" r="1.45"/>
<circle cx="943.5" cy="480.93" r="1.45"/>
<circle cx="948.25" cy="478.66" r="1.45"/>
<circle cx="953.01" cy="476.4" r="1.45"/>
<circle cx="957.76" cy="478.66" r="1.45"/>
<circle cx="962.52" cy="480.93" r="1.45"/>
<circle cx="967.28" cy="442.44" r="1.45"/>
<circle cx="972.03" cy="444.7" r="1.45"/>
<circle cx="976.79" cy="480.93" r="1.45"/>
<circle cx="981.54" cy="478.66" r="1.45"/>
<circle cx="986.3" cy="476.4" r="1.45"/>
<circle cx="991.06" cy="494.51" r="1.45"/>
<circle cx="995.81" cy="598.66" r="1.45"/>
<circle cx="1000.57" cy="446.97" r="1.45"/>
<circle cx="1005.32" cy="442.44" r="1.45"/>
<circle cx="1010.08" cy="478.66" r="1.45"/>
<circle cx="1014.84" cy="474.14" r="1.45"/>
<circle cx="1019.59" cy="474.14" r="1.45"/>
<circle cx="1024.35" cy="474.14" r="1.45"/>
<circle cx="1029.1" cy="476.4" r="1.45"/>
<circle cx="1033.86" cy="431.12" r="1.45"/>
<line x1="658.14" y1="363.7" x2="658.14" y2="617.5" stroke="#35299a" stroke-width="1.35" stroke-dasharray="4,1.4"/>
<line x1="786.55" y1="363.7" x2="786.55" y2="617.5" stroke="#35299a" stroke-width="1.35" stroke-dasharray="4,1.4"/>
<line x1="815.08" y1="363.7" x2="815.08" y2="617.5" stroke="#35299a" stroke-width="1.35" stroke-dasharray="4,1.4"/>
<line x1="862.64" y1="363.7" x2="862.64" y2="617.5" stroke="#35299a" stroke-width="1.35" stroke-dasharray="4,1.4"/>
<line x1="900.69" y1="363.7" x2="900.69" y2="617.5" stroke="#35299a" stroke-width="1.35" stroke-dasharray="4,1.4"/>
<line x1="929.23" y1="363.7" x2="929.23" y2="617.5" stroke="#35299a" stroke-width="1.35" stroke-dasharray="4,1.4"/>
<line x1="938.74" y1="363.7" x2="938.74" y2="617.5" stroke="#35299a" stroke-width="1.35" stroke-dasharray="4,1.4"/>
<line x1="748.5" y1="363.7" x2="748.5" y2="617.5" stroke="#ff0000" stroke-width="2.2"/>
<rect x="614.2" y="363.7" width="439.8" height="253.8" fill="none" stroke="#77716d" stroke-width="1.4"/>
<line x1="611.2" y1="374.52" x2="614.2" y2="374.52" stroke="#77716d" stroke-width="1.2"/>
<line x1="611.2" y1="419.8" x2="614.2" y2="419.8" stroke="#77716d" stroke-width="1.2"/>
<line x1="611.2" y1="465.08" x2="614.2" y2="465.08" stroke="#77716d" stroke-width="1.2"/>
<line x1="611.2" y1="510.36" x2="614.2" y2="510.36" stroke="#77716d" stroke-width="1.2"/>
<line x1="611.2" y1="555.64" x2="614.2" y2="555.64" stroke="#77716d" stroke-width="1.2"/>
<line x1="611.2" y1="600.92" x2="614.2" y2="600.92" stroke="#77716d" stroke-width="1.2"/>
<line x1="629.6" y1="617.5" x2="629.6" y2="620.5" stroke="#77716d" stroke-width="1.2"/>
<line x1="696.18" y1="617.5" x2="696.18" y2="620.5" stroke="#77716d" stroke-width="1.2"/>
<line x1="762.77" y1="617.5" x2="762.77" y2="620.5" stroke="#77716d" stroke-width="1.2"/>
<line x1="829.35" y1="617.5" x2="829.35" y2="620.5" stroke="#77716d" stroke-width="1.2"/>
<line x1="895.94" y1="617.5" x2="895.94" y2="620.5" stroke="#77716d" stroke-width="1.2"/>
<line x1="962.52" y1="617.5" x2="962.52" y2="620.5" stroke="#77716d" stroke-width="1.2"/>
<line x1="1029.1" y1="617.5" x2="1029.1" y2="620.5" stroke="#77716d" stroke-width="1.2"/>
</g>
<g class="t">
<text x="587.25" y="380.83" font-size="12" textLength="14.47" lengthAdjust="spacingAndGlyphs">20</text>
<text x="594.37" y="424.73" font-size="12" textLength="7.34" lengthAdjust="spacingAndGlyphs">0</text>
<text x="568.75" y="469.43" font-size="12" textLength="33.47" lengthAdjust="spacingAndGlyphs">−20%</text>
<text x="566.81" y="514.73" font-size="12" textLength="35.44" lengthAdjust="spacingAndGlyphs">−40%</text>
<text x="566.81" y="562.43" font-size="12" textLength="35.44" lengthAdjust="spacingAndGlyphs">−60%</text>
<text x="566.81" y="603.73" font-size="12" textLength="35.44" lengthAdjust="spacingAndGlyphs">−80%</text>
<text x="610.69" y="640" font-size="11.6" textLength="33.55" lengthAdjust="spacingAndGlyphs">14 Feb</text>
<text x="673.71" y="640" font-size="11.6" textLength="36.46" lengthAdjust="spacingAndGlyphs">28 Feb</text>
<text x="736.31" y="640" font-size="11.6" textLength="32.95" lengthAdjust="spacingAndGlyphs">13 Mar</text>
<text x="802.74" y="640" font-size="11.6" textLength="34.72" lengthAdjust="spacingAndGlyphs">27 Mar</text>
<text x="869.35" y="640" font-size="11.6" textLength="32.73" lengthAdjust="spacingAndGlyphs">10 Apr</text>
<text x="935.22" y="640" font-size="11.6" textLength="33.67" lengthAdjust="spacingAndGlyphs">24 Apr</text>
<text x="1006.01" y="640" font-size="11.6" textLength="31.33" lengthAdjust="spacingAndGlyphs">8 May</text>
<text x="811.43" y="662.9" font-size="11.8" textLength="24.9" lengthAdjust="spacingAndGlyphs">Date</text>
<text transform="translate(552,537.3) rotate(-90)" x="-0.71" y="0" font-size="14" textLength="139.04" lengthAdjust="spacingAndGlyphs">Change from baseline</text>
</g>
<rect x="915.3" y="374.9" width="130" height="20.1" fill="#fff" fill-opacity="1" stroke="#3a3a3a" stroke-width="1.3"/>
<line x1="918" y1="384.95" x2="931.1" y2="384.95" stroke="#cc0000" stroke-width="3.2"/>
<g class="t2">
<text x="934.9" y="388.7" font-size="10.4" textLength="101.31" lengthAdjust="spacingAndGlyphs">Effective lockdown date</text>
</g>
<rect x="1003.5" y="592.8" width="37.9" height="10.2" fill="#fff"/>
<g class="t2">
<text x="1004.04" y="600.7" font-size="10.5" textLength="37.02" lengthAdjust="spacingAndGlyphs">Sweden</text>
</g>
<g>
<line x1="614.5" y1="739.82" x2="1043.8" y2="739.82" stroke="#f1efec" stroke-width="1"/>
<line x1="614.5" y1="771.7" x2="1043.8" y2="771.7" stroke="#f1efec" stroke-width="1"/>
<line x1="614.5" y1="803.58" x2="1043.8" y2="803.58" stroke="#f1efec" stroke-width="1"/>
<line x1="614.5" y1="835.46" x2="1043.8" y2="835.46" stroke="#f1efec" stroke-width="1"/>
<line x1="614.5" y1="867.34" x2="1043.8" y2="867.34" stroke="#f1efec" stroke-width="1"/>
<line x1="614.5" y1="899.22" x2="1043.8" y2="899.22" stroke="#f1efec" stroke-width="1"/>
<line x1="614.5" y1="931.1" x2="1043.8" y2="931.1" stroke="#f1efec" stroke-width="1"/>
<line x1="629.6" y1="713.3" x2="629.6" y2="961.4" stroke="#f1efec" stroke-width="1"/>
<line x1="694.6" y1="713.3" x2="694.6" y2="961.4" stroke="#f1efec" stroke-width="1"/>
<line x1="759.6" y1="713.3" x2="759.6" y2="961.4" stroke="#f1efec" stroke-width="1"/>
<line x1="824.61" y1="713.3" x2="824.61" y2="961.4" stroke="#f1efec" stroke-width="1"/>
<line x1="889.61" y1="713.3" x2="889.61" y2="961.4" stroke="#f1efec" stroke-width="1"/>
<line x1="954.61" y1="713.3" x2="954.61" y2="961.4" stroke="#f1efec" stroke-width="1"/>
<line x1="1019.61" y1="713.3" x2="1019.61" y2="961.4" stroke="#f1efec" stroke-width="1"/>
<polygon fill="#cde0e4" stroke="#c3d8dc" stroke-width="0.6" stroke-linejoin="round" points="634.24,721.55 638.89,741.57 643.53,725.25 648.17,738.41 652.82,742.81 657.46,743.06 662.1,744.17 666.74,741.17 671.39,761.19 676.03,744.87 680.67,758.03 685.32,762.43 689.96,762.68 694.6,763.79 699.25,757.54 703.89,774.3 708.53,754.72 713.17,764.63 717.82,765.77 722.46,762.77 727.1,760.62 731.75,754.37 736.39,771.13 741.03,751.55 745.67,761.46 750.32,762.6 754.96,759.59 759.6,757.45 764.25,751.2 768.89,767.96 773.53,748.38 778.18,758.29 782.82,759.43 787.46,756.9 792.11,755.23 796.75,749.45 801.39,766.69 806.03,747.59 810.68,757.97 815.32,759.59 819.96,757.06 824.61,755.39 829.25,749.61 833.89,766.85 838.54,747.74 843.18,758.13 847.82,759.75 852.46,757.32 857.11,755.75 861.75,750.07 866.39,767.41 871.04,748.4 875.68,758.89 880.32,760.6 884.97,758.18 889.61,756.61 894.25,750.93 898.89,768.27 903.54,749.26 908.18,759.75 912.82,761.42 917.47,758.95 922.11,757.34 926.75,751.62 931.39,768.91 936.04,749.86 940.68,760.3 945.32,761.98 949.97,761.23 954.61,761.34 959.25,757.34 963.9,776.35 968.54,759.02 973.18,771.18 977.83,774.58 982.47,773.83 987.11,773.94 991.75,769.94 996.4,788.95 1001.04,771.62 1005.68,783.79 1010.33,787.18 1014.97,786.43 1019.61,786.54 1024.26,782.54 1024.26,860.33 1019.61,864.33 1014.97,864.22 1010.33,864.97 1005.68,861.57 1001.04,849.41 996.4,866.74 991.75,847.72 987.11,851.73 982.47,851.62 977.83,852.37 973.18,848.97 968.54,836.81 963.9,854.14 959.25,835.12 954.61,839.12 949.97,839.01 945.32,839.76 940.68,838.09 936.04,827.65 931.39,846.7 926.75,829.4 922.11,835.13 917.47,836.74 912.82,839.21 908.18,837.53 903.54,827.05 898.89,846.05 894.25,828.72 889.61,834.4 884.97,835.96 880.32,838.39 875.68,836.67 871.04,826.19 866.39,845.2 861.75,827.86 857.11,833.54 852.46,835.1 847.82,837.53 843.18,835.92 838.54,825.53 833.89,844.64 829.25,827.4 824.61,833.18 819.96,834.85 815.32,837.37 810.68,835.76 806.03,825.37 801.39,844.48 796.75,827.24 792.11,833.02 787.46,834.69 782.82,837.21 778.18,836.07 773.53,826.16 768.89,845.75 764.25,828.98 759.6,835.24 754.96,837.38 750.32,840.38 745.67,839.24 741.03,829.34 736.39,848.92 731.75,832.15 727.1,838.41 722.46,840.55 717.82,843.56 713.17,842.41 708.53,832.51 703.89,852.09 699.25,835.33 694.6,841.58 689.96,840.47 685.32,840.22 680.67,835.82 676.03,822.65 671.39,838.98 666.74,818.96 662.1,821.96 657.46,820.85 652.82,820.59 648.17,816.2 643.53,803.03 638.89,819.36 634.24,799.34"/>
<polyline fill="none" stroke="#2f62b3" stroke-width="1.1" stroke-linejoin="round" points="634.24,760.45 638.89,780.46 643.53,764.14 648.17,777.3 652.82,781.7 657.46,781.95 662.1,783.07 666.74,780.07 671.39,800.09 676.03,783.76 680.67,796.92 685.32,801.32 689.96,801.57 694.6,802.69 699.25,796.43 703.89,813.19 708.53,793.61 713.17,803.52 717.82,804.66 722.46,801.66 727.1,799.52 731.75,793.26 736.39,810.02 741.03,790.44 745.67,800.35 750.32,801.49 754.96,798.49 759.6,796.34 764.25,790.09 768.89,806.85 773.53,787.27 778.18,797.18 782.82,798.32 787.46,795.79 792.11,794.13 796.75,788.35 801.39,805.58 806.03,786.48 810.68,796.86 815.32,798.48 819.96,795.95 824.61,794.28 829.25,788.51 833.89,805.74 838.54,786.64 843.18,797.02 847.82,798.64 852.46,796.21 857.11,794.64 861.75,788.96 866.39,806.3 871.04,787.3 875.68,797.78 880.32,799.5 884.97,797.07 889.61,795.5 894.25,789.82 898.89,807.16 903.54,788.15 908.18,798.64 912.82,800.31 917.47,797.84 922.11,796.23 926.75,790.51 931.39,807.8 936.04,788.76 940.68,799.2 945.32,800.87 949.97,800.12 954.61,800.23 959.25,796.23 963.9,815.24 968.54,797.92 973.18,810.08 977.83,813.47 982.47,812.72 987.11,812.83 991.75,808.83 996.4,827.85 1001.04,810.52 1005.68,822.68 1010.33,826.07 1014.97,825.32 1019.61,825.43 1024.26,821.43"/>
<polyline fill="none" stroke="#2b2294" stroke-width="1.2" stroke-linejoin="round" points="634.24,767.46 694.6,803.9 782.82,795.29 847.82,795.61 908.18,797.2 945.32,797.84 1024.26,828.45"/>
<circle cx="634.24" cy="768.51" r="1.45"/>
<circle cx="638.89" cy="781.26" r="1.45"/>
<circle cx="643.53" cy="771.7" r="1.45"/>
<circle cx="648.17" cy="765.32" r="1.45"/>
<circle cx="652.82" cy="768.51" r="1.45"/>
<circle cx="657.46" cy="768.51" r="1.45"/>
<circle cx="662.1" cy="771.7" r="1.45"/>
<circle cx="666.74" cy="784.45" r="1.45"/>
<circle cx="671.39" cy="800.39" r="1.45"/>
<circle cx="676.03" cy="790.83" r="1.45"/>
<circle cx="680.67" cy="803.58" r="1.45"/>
<circle cx="685.32" cy="806.77" r="1.45"/>
<circle cx="689.96" cy="803.58" r="1.45"/>
<circle cx="694.6" cy="809.96" r="1.45"/>
<circle cx="699.25" cy="803.58" r="1.45"/>
<circle cx="703.89" cy="822.71" r="1.45"/>
<circle cx="708.53" cy="797.2" r="1.45"/>
<circle cx="713.17" cy="800.39" r="1.45"/>
<circle cx="717.82" cy="806.77" r="1.45"/>
<circle cx="722.46" cy="800.39" r="1.45"/>
<circle cx="727.1" cy="800.39" r="1.45"/>
<circle cx="731.75" cy="797.2" r="1.45"/>
<circle cx="736.39" cy="816.33" r="1.45"/>
<circle cx="741.03" cy="790.83" r="1.45"/>
<circle cx="745.67" cy="800.39" r="1.45"/>
<circle cx="750.32" cy="797.2" r="1.45"/>
<circle cx="754.96" cy="794.02" r="1.45"/>
<circle cx="759.6" cy="794.02" r="1.45"/>
<circle cx="764.25" cy="787.64" r="1.45"/>
<circle cx="768.89" cy="809.96" r="1.45"/>
<circle cx="773.53" cy="790.83" r="1.45"/>
<circle cx="778.18" cy="790.83" r="1.45"/>
<circle cx="782.82" cy="794.02" r="1.45"/>
<circle cx="787.46" cy="794.02" r="1.45"/>
<circle cx="792.11" cy="790.83" r="1.45"/>
<circle cx="796.75" cy="787.64" r="1.45"/>
<circle cx="801.39" cy="809.96" r="1.45"/>
<circle cx="806.03" cy="787.64" r="1.45"/>
<circle cx="810.68" cy="790.83" r="1.45"/>
<circle cx="815.32" cy="797.2" r="1.45"/>
<circle cx="819.96" cy="794.02" r="1.45"/>
<circle cx="824.61" cy="797.2" r="1.45"/>
<circle cx="829.25" cy="794.02" r="1.45"/>
<circle cx="833.89" cy="809.96" r="1.45"/>
<circle cx="838.54" cy="790.83" r="1.45"/>
<circle cx="843.18" cy="787.64" r="1.45"/>
<circle cx="847.82" cy="797.2" r="1.45"/>
<circle cx="852.46" cy="790.83" r="1.45"/>
<circle cx="857.11" cy="790.83" r="1.45"/>
<circle cx="861.75" cy="797.2" r="1.45"/>
<circle cx="866.39" cy="813.14" r="1.45"/>
<circle cx="871.04" cy="781.26" r="1.45"/>
<circle cx="875.68" cy="784.45" r="1.45"/>
<circle cx="880.32" cy="790.83" r="1.45"/>
<circle cx="884.97" cy="784.45" r="1.45"/>
<circle cx="889.61" cy="787.64" r="1.45"/>
<circle cx="894.25" cy="794.02" r="1.45"/>
<circle cx="898.89" cy="813.14" r="1.45"/>
<circle cx="903.54" cy="781.26" r="1.45"/>
<circle cx="908.18" cy="781.26" r="1.45"/>
<circle cx="912.82" cy="931.1" r="1.45"/>
<circle cx="917.47" cy="784.45" r="1.45"/>
<circle cx="922.11" cy="790.83" r="1.45"/>
<circle cx="926.75" cy="784.45" r="1.45"/>
<circle cx="931.39" cy="809.96" r="1.45"/>
<circle cx="936.04" cy="778.08" r="1.45"/>
<circle cx="940.68" cy="778.08" r="1.45"/>
<circle cx="945.32" cy="778.08" r="1.45"/>
<circle cx="949.97" cy="778.08" r="1.45"/>
<circle cx="954.61" cy="778.08" r="1.45"/>
<circle cx="959.25" cy="784.45" r="1.45"/>
<circle cx="963.9" cy="797.2" r="1.45"/>
<circle cx="968.54" cy="774.89" r="1.45"/>
<circle cx="973.18" cy="774.89" r="1.45"/>
<circle cx="977.83" cy="781.26" r="1.45"/>
<circle cx="982.47" cy="943.85" r="1.45"/>
<circle cx="987.11" cy="918.35" r="1.45"/>
<circle cx="991.75" cy="819.52" r="1.45"/>
<circle cx="996.4" cy="800.39" r="1.45"/>
<circle cx="1001.04" cy="829.08" r="1.45"/>
<circle cx="1005.68" cy="950.23" r="1.45"/>
<circle cx="1010.33" cy="774.89" r="1.45"/>
<circle cx="1014.97" cy="774.89" r="1.45"/>
<circle cx="1019.61" cy="774.89" r="1.45"/>
<circle cx="1024.26" cy="794.02" r="1.45"/>
<line x1="694.6" y1="713.3" x2="694.6" y2="961.4" stroke="#35299a" stroke-width="1.35" stroke-dasharray="4,1.4"/>
<line x1="782.82" y1="713.3" x2="782.82" y2="961.4" stroke="#35299a" stroke-width="1.35" stroke-dasharray="4,1.4"/>
<line x1="847.82" y1="713.3" x2="847.82" y2="961.4" stroke="#35299a" stroke-width="1.35" stroke-dasharray="4,1.4"/>
<line x1="908.18" y1="713.3" x2="908.18" y2="961.4" stroke="#35299a" stroke-width="1.35" stroke-dasharray="4,1.4"/>
<line x1="945.32" y1="713.3" x2="945.32" y2="961.4" stroke="#ff0000" stroke-width="2.2"/>
<rect x="614.5" y="713.3" width="429.3" height="248.1" fill="none" stroke="#77716d" stroke-width="1.4"/>
<line x1="611.5" y1="739.82" x2="614.5" y2="739.82" stroke="#77716d" stroke-width="1.2"/>
<line x1="611.5" y1="771.7" x2="614.5" y2="771.7" stroke="#77716d" stroke-width="1.2"/>
<line x1="611.5" y1="803.58" x2="614.5" y2="803.58" stroke="#77716d" stroke-width="1.2"/>
<line x1="611.5" y1="835.46" x2="614.5" y2="835.46" stroke="#77716d" stroke-width="1.2"/>
<line x1="611.5" y1="867.34" x2="614.5" y2="867.34" stroke="#77716d" stroke-width="1.2"/>
<line x1="611.5" y1="899.22" x2="614.5" y2="899.22" stroke="#77716d" stroke-width="1.2"/>
<line x1="611.5" y1="931.1" x2="614.5" y2="931.1" stroke="#77716d" stroke-width="1.2"/>
<line x1="629.6" y1="961.4" x2="629.6" y2="964.4" stroke="#77716d" stroke-width="1.2"/>
<line x1="694.6" y1="961.4" x2="694.6" y2="964.4" stroke="#77716d" stroke-width="1.2"/>
<line x1="759.6" y1="961.4" x2="759.6" y2="964.4" stroke="#77716d" stroke-width="1.2"/>
<line x1="824.61" y1="961.4" x2="824.61" y2="964.4" stroke="#77716d" stroke-width="1.2"/>
<line x1="889.61" y1="961.4" x2="889.61" y2="964.4" stroke="#77716d" stroke-width="1.2"/>
<line x1="954.61" y1="961.4" x2="954.61" y2="964.4" stroke="#77716d" stroke-width="1.2"/>
<line x1="1019.61" y1="961.4" x2="1019.61" y2="964.4" stroke="#77716d" stroke-width="1.2"/>
</g>
<g class="t">
<text x="584.37" y="744.93" font-size="12" textLength="24.85" lengthAdjust="spacingAndGlyphs">10%</text>
<text x="596.21" y="777.73" font-size="12" textLength="8.15" lengthAdjust="spacingAndGlyphs">0</text>
<text x="577.69" y="810.13" font-size="12" textLength="31.51" lengthAdjust="spacingAndGlyphs">−10%</text>
<text x="575.14" y="841.73" font-size="12" textLength="34.09" lengthAdjust="spacingAndGlyphs">−20%</text>
<text x="575.14" y="871.73" font-size="12" textLength="34.09" lengthAdjust="spacingAndGlyphs">−30%</text>
<text x="574.53" y="902.13" font-size="12" textLength="34.71" lengthAdjust="spacingAndGlyphs">−40%</text>
<text x="574.53" y="936.63" font-size="12" textLength="34.71" lengthAdjust="spacingAndGlyphs">−50%</text>
<text x="610.69" y="978.6" font-size="11.6" textLength="33.55" lengthAdjust="spacingAndGlyphs">14 Feb</text>
<text x="673.71" y="978.6" font-size="11.6" textLength="36.46" lengthAdjust="spacingAndGlyphs">28 Feb</text>
<text x="736.31" y="978.6" font-size="11.6" textLength="32.95" lengthAdjust="spacingAndGlyphs">13 Mar</text>
<text x="802.74" y="978.6" font-size="11.6" textLength="34.72" lengthAdjust="spacingAndGlyphs">27 Mar</text>
<text x="869.35" y="978.6" font-size="11.6" textLength="32.73" lengthAdjust="spacingAndGlyphs">10 Apr</text>
<text x="935.22" y="978.6" font-size="11.6" textLength="33.67" lengthAdjust="spacingAndGlyphs">24 Apr</text>
<text x="1006.01" y="978.6" font-size="11.6" textLength="31.33" lengthAdjust="spacingAndGlyphs">8 May</text>
<text x="811.43" y="1001.3" font-size="11.8" textLength="24.9" lengthAdjust="spacingAndGlyphs">Date</text>
<text transform="translate(552,895) rotate(-90)" x="-0.71" y="0" font-size="14" textLength="138.53" lengthAdjust="spacingAndGlyphs">Change from baseline</text>
</g>
<rect x="906.7" y="724.9" width="129.7" height="20.1" fill="#fff" fill-opacity="1" stroke="#3a3a3a" stroke-width="1.3"/>
<line x1="909.4" y1="734.95" x2="922.5" y2="734.95" stroke="#cc0000" stroke-width="3.2"/>
<g class="t2">
<text x="925.9" y="738.3" font-size="10.4" textLength="101.62" lengthAdjust="spacingAndGlyphs">Effective lockdown date</text>
</g>
<rect x="956" y="926.8" width="57.7" height="10.2" fill="#fff"/>
<g class="t2">
<text x="956.55" y="934.7" font-size="10.5" textLength="56.15" lengthAdjust="spacingAndGlyphs">South Korea</text>
</g>
<rect x="278.6" y="24.1" width="1.4" height="1.2" fill="#555"/>
<rect x="299.8" y="24.1" width="1.4" height="1.2" fill="#555"/>
<rect x="280" y="357.4" width="1.4" height="1.2" fill="#555"/>
<rect x="301.2" y="357.6" width="1.4" height="1.2" fill="#555"/>
</svg>
</body></html>
